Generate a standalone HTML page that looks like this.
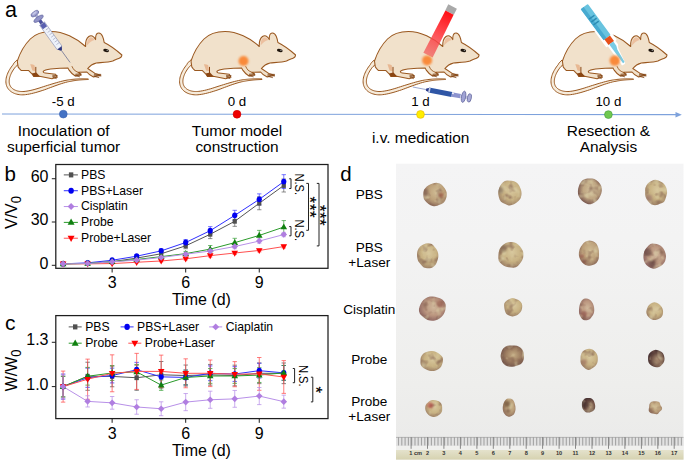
<!DOCTYPE html>
<html><head><meta charset="utf-8"><style>
html,body{margin:0;padding:0;background:#fff;width:685px;height:463px;overflow:hidden;}
svg{display:block;}
</style></head><body>
<svg width="685" height="463" viewBox="0 0 685 463">
<defs>
<filter id="blur1" x="-50%" y="-50%" width="200%" height="200%"><feGaussianBlur stdDeviation="0.6"/></filter>
<filter id="blurT" x="-50%" y="-50%" width="200%" height="200%"><feGaussianBlur stdDeviation="0.85"/></filter>
<filter id="blur2" x="-50%" y="-50%" width="200%" height="200%"><feGaussianBlur stdDeviation="1.1"/></filter>
<linearGradient id="photobg" x1="0" y1="0" x2="0" y2="1"><stop offset="0" stop-color="#f4f4f5"/><stop offset="0.25" stop-color="#f3f3f3"/><stop offset="0.75" stop-color="#eeeeec"/><stop offset="0.92" stop-color="#ebebea"/></linearGradient>
<linearGradient id="rulerband" x1="0" y1="0" x2="0" y2="1"><stop offset="0" stop-color="#e4e2cc"/><stop offset="1" stop-color="#d6d2b0"/></linearGradient>
<radialGradient id="tgy" cx="0.55" cy="0.4" r="0.6"><stop offset="0" stop-color="#d8c89e"/><stop offset="0.6" stop-color="#c8b283"/><stop offset="1" stop-color="#a08468"/></radialGradient>
<radialGradient id="tga" cx="0.55" cy="0.4" r="0.6"><stop offset="0" stop-color="#d0bc94"/><stop offset="0.6" stop-color="#bca07a"/><stop offset="1" stop-color="#947460"/></radialGradient>
<radialGradient id="tgr" cx="0.55" cy="0.45" r="0.6"><stop offset="0" stop-color="#d0b89c"/><stop offset="0.55" stop-color="#bb967f"/><stop offset="1" stop-color="#8a6260"/></radialGradient>
<radialGradient id="tgb" cx="0.55" cy="0.45" r="0.6"><stop offset="0" stop-color="#c4ac84"/><stop offset="0.55" stop-color="#9c7c60"/><stop offset="1" stop-color="#6e5048"/></radialGradient>
<radialGradient id="tgm" cx="0.55" cy="0.45" r="0.6"><stop offset="0" stop-color="#d2c09c"/><stop offset="0.55" stop-color="#bfa682"/><stop offset="0.85" stop-color="#8a6a5c"/><stop offset="1" stop-color="#664644"/></radialGradient>
<radialGradient id="tgd" cx="0.6" cy="0.6" r="0.6"><stop offset="0" stop-color="#c4ac88"/><stop offset="0.3" stop-color="#9a8068"/><stop offset="0.7" stop-color="#64483f"/><stop offset="1" stop-color="#4a3434"/></radialGradient>
<filter id="mottle" x="-20%" y="-20%" width="140%" height="140%" color-interpolation-filters="sRGB">
<feTurbulence type="fractalNoise" baseFrequency="0.14" numOctaves="2" seed="5" result="n"/>
<feColorMatrix in="n" type="matrix" values="0 0 0 0 0.50  0 0 0 0 0.36  0 0 0 0 0.30  1.9 0 0 0 -0.95" result="spots"/>
<feColorMatrix in="n" type="matrix" values="0 0 0 0 0.86  0 0 0 0 0.82  0 0 0 0 0.66  0 2.0 0 0 -1.05" result="hl"/>
<feComposite in="spots" in2="SourceGraphic" operator="atop" result="s1"/>
<feComposite in="hl" in2="s1" operator="atop" result="s2"/>
<feGaussianBlur in="s2" stdDeviation="0.6"/>
</filter>
<linearGradient id="laserg" x1="0" y1="0" x2="0" y2="1"><stop offset="0" stop-color="#ff0f14"/><stop offset="0.5" stop-color="#ff3a40" stop-opacity="0.9"/><stop offset="1" stop-color="#f05a5a" stop-opacity="0.72"/></linearGradient>
</defs>
<text x="5" y="16.5" font-size="21.5" font-family="Liberation Sans, sans-serif">a</text>
<g transform="translate(63.3,0)">
<path d="M-46.39,60.06 L-47.44,61.07 L-48.49,62.15 L-49.50,63.26 L-50.20,64.62 L-51.11,65.77 L-51.98,66.95 L-52.80,68.15 L-53.57,69.36 L-54.27,70.59 L-54.92,71.83 L-55.50,73.09 L-56.01,74.34 L-56.45,75.61 L-56.82,76.87 L-57.10,78.14 L-57.29,79.40 L-57.40,80.65 L-57.41,81.90 L-57.31,83.13 L-57.11,84.35 L-56.80,85.53 L-56.37,86.64 L-55.84,87.70 L-55.22,88.68 L-54.50,89.58 L-53.71,90.41 L-52.85,91.17 L-51.92,91.85 L-50.93,92.46 L-49.89,92.99 L-48.81,93.46 L-47.68,93.85 L-46.52,94.18 L-45.33,94.44 L-44.11,94.64 L-42.88,94.77 L-41.62,94.83 L-40.35,94.83 L-39.08,94.77 L-37.80,94.64 L-35.78,94.36 L-33.73,94.00 L-31.66,93.56 L-29.58,93.06 L-27.48,92.50 L-25.37,91.89 L-23.25,91.24 L-21.12,90.56 L-18.98,89.85 L-16.86,89.08 L-14.73,88.28 L-12.61,87.48 L-10.49,86.68 L-8.37,85.90 L-6.25,85.14 L-4.15,84.40 L-2.04,83.71 L0.05,83.05 L2.13,82.45 L4.19,81.91 L5.34,81.67 L6.48,81.44 L7.60,81.22 L8.70,81.02 L9.77,80.84 L10.83,80.67 L11.87,80.52 L12.90,80.38 L13.91,80.25 L14.92,80.14 L15.92,80.04 L16.92,79.94 L17.91,79.86 L18.91,79.79 L19.90,79.72 L20.91,79.67 L21.91,79.62 L22.93,79.57 L23.96,79.53 L25.00,79.50 L25.00,78.90 L23.96,78.87 L22.92,78.85 L21.90,78.83 L20.89,78.82 L19.88,78.82 L18.87,78.82 L17.86,78.84 L16.86,78.86 L15.85,78.89 L14.83,78.93 L13.80,78.99 L12.77,79.06 L11.72,79.13 L10.65,79.23 L9.57,79.33 L8.47,79.45 L7.35,79.58 L6.20,79.73 L5.03,79.90 L3.81,80.09 L1.66,80.51 L-0.50,81.00 L-2.67,81.53 L-4.85,82.11 L-7.03,82.72 L-9.21,83.36 L-11.39,84.03 L-13.57,84.70 L-15.73,85.37 L-17.89,86.04 L-20.03,86.72 L-22.14,87.42 L-24.24,88.10 L-26.31,88.73 L-28.36,89.32 L-30.39,89.86 L-32.39,90.35 L-34.36,90.76 L-36.29,91.10 L-38.20,91.36 L-39.32,91.47 L-40.44,91.53 L-41.54,91.53 L-42.62,91.47 L-43.68,91.36 L-44.72,91.20 L-45.72,90.98 L-46.69,90.71 L-47.61,90.38 L-48.48,90.01 L-49.31,89.58 L-50.08,89.11 L-50.78,88.59 L-51.43,88.03 L-52.01,87.42 L-52.53,86.76 L-52.97,86.06 L-53.35,85.32 L-53.66,84.51 L-53.89,83.65 L-54.04,82.74 L-54.11,81.79 L-54.10,80.81 L-54.02,79.79 L-53.86,78.75 L-53.62,77.69 L-53.31,76.61 L-52.92,75.51 L-52.47,74.40 L-51.96,73.29 L-51.38,72.18 L-50.74,71.06 L-50.04,69.96 L-49.29,68.86 L-48.49,67.78 L-47.65,66.71 L-46.50,65.90 L-45.58,64.89 L-44.63,63.91 L-43.61,62.94 Z" fill="#f7ecdc" stroke="#9a5820" stroke-width="1.0" stroke-linejoin="round"/>
<path d="M-46,61 C-43,52 -38,44 -33,39 C-27,33 -20,31.5 -12,31.5 C0,31.5 13,38 22.3,46.5 C22,42 23.5,38 25.5,36.5 C27.5,35 30.5,35.5 32.3,39.6 C32.2,36.5 32.8,33.8 34.3,33.2 C36,32.6 38,33.5 39.2,36.2 C40,38 40.5,40 40.9,42.5 C46,45 53,50 58.6,55 C58.5,57 57,58 55.5,58.5 C53,59.5 51,60 49.5,61 C45,62.3 38,62.5 33,63 C29,64 26,66.5 24.4,68.5 L31.7,73.4 L37.5,75.2 L30.2,77 C28,76 25,74 23.6,72 L15,72.3 L17.8,74.5 L12,76 C9,74 7,72 6,70.4 L4.6,67.9 C0,68 -8,68.5 -12.8,68.9 C-16,69.3 -19,70 -20.1,71.4 C-20,72.5 -19,73 -18,72.9 L-7.7,74.3 L-6.2,76.9 L-11.3,78.7 L-23.8,76.2 L-29.6,76.4 L-31.4,73.8 L-34.8,70.4 L-42.2,70.4 L-43.9,68.6 L-45.2,66.9 Z" fill="#f1e1cb" stroke="#9a5820" stroke-width="1.05" stroke-linejoin="round"/>
<path d="M23.6,45.5 C23.4,41.5 24.8,38.5 26.8,37.6 C28.6,36.9 30.4,38 31.2,40 C28.5,40.8 25.5,43 23.6,45.5 Z" fill="#ecc0a0"/>
<path d="M-33.1,64.3 C-31.5,64 -30,64.5 -28.8,65.2 L-27.9,71.2 L-30.9,70.4 Z" fill="#e8b893"/>
<path d="M-27.5,66.9 V73.8" stroke="#8a4512" stroke-width="1"/>
<path d="M-31.5,73.5 L-27,72.5 L-23.5,76.2 L-29.6,76.8 Z" fill="#8a4512"/>
<path d="M-10.5,75.3 L-6,75.6 M-10.5,76.3 L-6,77.2 M-10.5,77.2 L-7,78.6" stroke="#7a3e10" stroke-width="0.75" fill="none" stroke-linecap="round"/>
<path d="M12.5,74.2 L17.6,73.8 M12.5,75 L17.8,75.4 M12,75.8 L16.3,76.8" stroke="#7a3e10" stroke-width="0.75" fill="none" stroke-linecap="round"/>
<path d="M31,74.2 L37.5,74.4 M31,75.2 L37.6,76 M30.5,76.2 L35.5,77.6" stroke="#7a3e10" stroke-width="0.75" fill="none" stroke-linecap="round"/>
<path d="M8.6,66.2 C9.4,67.8 10,69 10.8,69.9 C12,71 13.5,71.8 15,72.4" stroke="#9a5820" stroke-width="0.9" fill="none"/>
<ellipse cx="42.8" cy="50.5" rx="2.9" ry="1.6" fill="#1e140c" transform="rotate(10 42.8 50.5)"/>
<ellipse cx="43.9" cy="50.5" rx="0.8" ry="0.6" fill="#9a9a9a"/>

</g>
<g transform="translate(237,0)">
<path d="M-46.39,60.06 L-47.44,61.07 L-48.49,62.15 L-49.50,63.26 L-50.20,64.62 L-51.11,65.77 L-51.98,66.95 L-52.80,68.15 L-53.57,69.36 L-54.27,70.59 L-54.92,71.83 L-55.50,73.09 L-56.01,74.34 L-56.45,75.61 L-56.82,76.87 L-57.10,78.14 L-57.29,79.40 L-57.40,80.65 L-57.41,81.90 L-57.31,83.13 L-57.11,84.35 L-56.80,85.53 L-56.37,86.64 L-55.84,87.70 L-55.22,88.68 L-54.50,89.58 L-53.71,90.41 L-52.85,91.17 L-51.92,91.85 L-50.93,92.46 L-49.89,92.99 L-48.81,93.46 L-47.68,93.85 L-46.52,94.18 L-45.33,94.44 L-44.11,94.64 L-42.88,94.77 L-41.62,94.83 L-40.35,94.83 L-39.08,94.77 L-37.80,94.64 L-35.78,94.36 L-33.73,94.00 L-31.66,93.56 L-29.58,93.06 L-27.48,92.50 L-25.37,91.89 L-23.25,91.24 L-21.12,90.56 L-18.98,89.85 L-16.86,89.08 L-14.73,88.28 L-12.61,87.48 L-10.49,86.68 L-8.37,85.90 L-6.25,85.14 L-4.15,84.40 L-2.04,83.71 L0.05,83.05 L2.13,82.45 L4.19,81.91 L5.34,81.67 L6.48,81.44 L7.60,81.22 L8.70,81.02 L9.77,80.84 L10.83,80.67 L11.87,80.52 L12.90,80.38 L13.91,80.25 L14.92,80.14 L15.92,80.04 L16.92,79.94 L17.91,79.86 L18.91,79.79 L19.90,79.72 L20.91,79.67 L21.91,79.62 L22.93,79.57 L23.96,79.53 L25.00,79.50 L25.00,78.90 L23.96,78.87 L22.92,78.85 L21.90,78.83 L20.89,78.82 L19.88,78.82 L18.87,78.82 L17.86,78.84 L16.86,78.86 L15.85,78.89 L14.83,78.93 L13.80,78.99 L12.77,79.06 L11.72,79.13 L10.65,79.23 L9.57,79.33 L8.47,79.45 L7.35,79.58 L6.20,79.73 L5.03,79.90 L3.81,80.09 L1.66,80.51 L-0.50,81.00 L-2.67,81.53 L-4.85,82.11 L-7.03,82.72 L-9.21,83.36 L-11.39,84.03 L-13.57,84.70 L-15.73,85.37 L-17.89,86.04 L-20.03,86.72 L-22.14,87.42 L-24.24,88.10 L-26.31,88.73 L-28.36,89.32 L-30.39,89.86 L-32.39,90.35 L-34.36,90.76 L-36.29,91.10 L-38.20,91.36 L-39.32,91.47 L-40.44,91.53 L-41.54,91.53 L-42.62,91.47 L-43.68,91.36 L-44.72,91.20 L-45.72,90.98 L-46.69,90.71 L-47.61,90.38 L-48.48,90.01 L-49.31,89.58 L-50.08,89.11 L-50.78,88.59 L-51.43,88.03 L-52.01,87.42 L-52.53,86.76 L-52.97,86.06 L-53.35,85.32 L-53.66,84.51 L-53.89,83.65 L-54.04,82.74 L-54.11,81.79 L-54.10,80.81 L-54.02,79.79 L-53.86,78.75 L-53.62,77.69 L-53.31,76.61 L-52.92,75.51 L-52.47,74.40 L-51.96,73.29 L-51.38,72.18 L-50.74,71.06 L-50.04,69.96 L-49.29,68.86 L-48.49,67.78 L-47.65,66.71 L-46.50,65.90 L-45.58,64.89 L-44.63,63.91 L-43.61,62.94 Z" fill="#f7ecdc" stroke="#9a5820" stroke-width="1.0" stroke-linejoin="round"/>
<path d="M-46,61 C-43,52 -38,44 -33,39 C-27,33 -20,31.5 -12,31.5 C0,31.5 13,38 22.3,46.5 C22,42 23.5,38 25.5,36.5 C27.5,35 30.5,35.5 32.3,39.6 C32.2,36.5 32.8,33.8 34.3,33.2 C36,32.6 38,33.5 39.2,36.2 C40,38 40.5,40 40.9,42.5 C46,45 53,50 58.6,55 C58.5,57 57,58 55.5,58.5 C53,59.5 51,60 49.5,61 C45,62.3 38,62.5 33,63 C29,64 26,66.5 24.4,68.5 L31.7,73.4 L37.5,75.2 L30.2,77 C28,76 25,74 23.6,72 L15,72.3 L17.8,74.5 L12,76 C9,74 7,72 6,70.4 L4.6,67.9 C0,68 -8,68.5 -12.8,68.9 C-16,69.3 -19,70 -20.1,71.4 C-20,72.5 -19,73 -18,72.9 L-7.7,74.3 L-6.2,76.9 L-11.3,78.7 L-23.8,76.2 L-29.6,76.4 L-31.4,73.8 L-34.8,70.4 L-42.2,70.4 L-43.9,68.6 L-45.2,66.9 Z" fill="#f1e1cb" stroke="#9a5820" stroke-width="1.05" stroke-linejoin="round"/>
<path d="M23.6,45.5 C23.4,41.5 24.8,38.5 26.8,37.6 C28.6,36.9 30.4,38 31.2,40 C28.5,40.8 25.5,43 23.6,45.5 Z" fill="#ecc0a0"/>
<path d="M-33.1,64.3 C-31.5,64 -30,64.5 -28.8,65.2 L-27.9,71.2 L-30.9,70.4 Z" fill="#e8b893"/>
<path d="M-27.5,66.9 V73.8" stroke="#8a4512" stroke-width="1"/>
<path d="M-31.5,73.5 L-27,72.5 L-23.5,76.2 L-29.6,76.8 Z" fill="#8a4512"/>
<path d="M-10.5,75.3 L-6,75.6 M-10.5,76.3 L-6,77.2 M-10.5,77.2 L-7,78.6" stroke="#7a3e10" stroke-width="0.75" fill="none" stroke-linecap="round"/>
<path d="M12.5,74.2 L17.6,73.8 M12.5,75 L17.8,75.4 M12,75.8 L16.3,76.8" stroke="#7a3e10" stroke-width="0.75" fill="none" stroke-linecap="round"/>
<path d="M31,74.2 L37.5,74.4 M31,75.2 L37.6,76 M30.5,76.2 L35.5,77.6" stroke="#7a3e10" stroke-width="0.75" fill="none" stroke-linecap="round"/>
<path d="M8.6,66.2 C9.4,67.8 10,69 10.8,69.9 C12,71 13.5,71.8 15,72.4" stroke="#9a5820" stroke-width="0.9" fill="none"/>
<ellipse cx="42.8" cy="50.5" rx="2.9" ry="1.6" fill="#1e140c" transform="rotate(10 42.8 50.5)"/>
<ellipse cx="43.9" cy="50.5" rx="0.8" ry="0.6" fill="#9a9a9a"/>

</g>
<g transform="translate(420.5,0)">
<path d="M-46.39,60.06 L-47.44,61.07 L-48.49,62.15 L-49.50,63.26 L-50.20,64.62 L-51.11,65.77 L-51.98,66.95 L-52.80,68.15 L-53.57,69.36 L-54.27,70.59 L-54.92,71.83 L-55.50,73.09 L-56.01,74.34 L-56.45,75.61 L-56.82,76.87 L-57.10,78.14 L-57.29,79.40 L-57.40,80.65 L-57.41,81.90 L-57.31,83.13 L-57.11,84.35 L-56.80,85.53 L-56.37,86.64 L-55.84,87.70 L-55.22,88.68 L-54.50,89.58 L-53.71,90.41 L-52.85,91.17 L-51.92,91.85 L-50.93,92.46 L-49.89,92.99 L-48.81,93.46 L-47.68,93.85 L-46.52,94.18 L-45.33,94.44 L-44.11,94.64 L-42.88,94.77 L-41.62,94.83 L-40.35,94.83 L-39.08,94.77 L-37.80,94.64 L-35.78,94.36 L-33.73,94.00 L-31.66,93.56 L-29.58,93.06 L-27.48,92.50 L-25.37,91.89 L-23.25,91.24 L-21.12,90.56 L-18.98,89.85 L-16.86,89.08 L-14.73,88.28 L-12.61,87.48 L-10.49,86.68 L-8.37,85.90 L-6.25,85.14 L-4.15,84.40 L-2.04,83.71 L0.05,83.05 L2.13,82.45 L4.19,81.91 L5.34,81.67 L6.48,81.44 L7.60,81.22 L8.70,81.02 L9.77,80.84 L10.83,80.67 L11.87,80.52 L12.90,80.38 L13.91,80.25 L14.92,80.14 L15.92,80.04 L16.92,79.94 L17.91,79.86 L18.91,79.79 L19.90,79.72 L20.91,79.67 L21.91,79.62 L22.93,79.57 L23.96,79.53 L25.00,79.50 L25.00,78.90 L23.96,78.87 L22.92,78.85 L21.90,78.83 L20.89,78.82 L19.88,78.82 L18.87,78.82 L17.86,78.84 L16.86,78.86 L15.85,78.89 L14.83,78.93 L13.80,78.99 L12.77,79.06 L11.72,79.13 L10.65,79.23 L9.57,79.33 L8.47,79.45 L7.35,79.58 L6.20,79.73 L5.03,79.90 L3.81,80.09 L1.66,80.51 L-0.50,81.00 L-2.67,81.53 L-4.85,82.11 L-7.03,82.72 L-9.21,83.36 L-11.39,84.03 L-13.57,84.70 L-15.73,85.37 L-17.89,86.04 L-20.03,86.72 L-22.14,87.42 L-24.24,88.10 L-26.31,88.73 L-28.36,89.32 L-30.39,89.86 L-32.39,90.35 L-34.36,90.76 L-36.29,91.10 L-38.20,91.36 L-39.32,91.47 L-40.44,91.53 L-41.54,91.53 L-42.62,91.47 L-43.68,91.36 L-44.72,91.20 L-45.72,90.98 L-46.69,90.71 L-47.61,90.38 L-48.48,90.01 L-49.31,89.58 L-50.08,89.11 L-50.78,88.59 L-51.43,88.03 L-52.01,87.42 L-52.53,86.76 L-52.97,86.06 L-53.35,85.32 L-53.66,84.51 L-53.89,83.65 L-54.04,82.74 L-54.11,81.79 L-54.10,80.81 L-54.02,79.79 L-53.86,78.75 L-53.62,77.69 L-53.31,76.61 L-52.92,75.51 L-52.47,74.40 L-51.96,73.29 L-51.38,72.18 L-50.74,71.06 L-50.04,69.96 L-49.29,68.86 L-48.49,67.78 L-47.65,66.71 L-46.50,65.90 L-45.58,64.89 L-44.63,63.91 L-43.61,62.94 Z" fill="#f7ecdc" stroke="#9a5820" stroke-width="1.0" stroke-linejoin="round"/>
<path d="M-46,61 C-43,52 -38,44 -33,39 C-27,33 -20,31.5 -12,31.5 C0,31.5 13,38 22.3,46.5 C22,42 23.5,38 25.5,36.5 C27.5,35 30.5,35.5 32.3,39.6 C32.2,36.5 32.8,33.8 34.3,33.2 C36,32.6 38,33.5 39.2,36.2 C40,38 40.5,40 40.9,42.5 C46,45 53,50 58.6,55 C58.5,57 57,58 55.5,58.5 C53,59.5 51,60 49.5,61 C45,62.3 38,62.5 33,63 C29,64 26,66.5 24.4,68.5 L31.7,73.4 L37.5,75.2 L30.2,77 C28,76 25,74 23.6,72 L15,72.3 L17.8,74.5 L12,76 C9,74 7,72 6,70.4 L4.6,67.9 C0,68 -8,68.5 -12.8,68.9 C-16,69.3 -19,70 -20.1,71.4 C-20,72.5 -19,73 -18,72.9 L-7.7,74.3 L-6.2,76.9 L-11.3,78.7 L-23.8,76.2 L-29.6,76.4 L-31.4,73.8 L-34.8,70.4 L-42.2,70.4 L-43.9,68.6 L-45.2,66.9 Z" fill="#f1e1cb" stroke="#9a5820" stroke-width="1.05" stroke-linejoin="round"/>
<path d="M23.6,45.5 C23.4,41.5 24.8,38.5 26.8,37.6 C28.6,36.9 30.4,38 31.2,40 C28.5,40.8 25.5,43 23.6,45.5 Z" fill="#ecc0a0"/>
<path d="M-33.1,64.3 C-31.5,64 -30,64.5 -28.8,65.2 L-27.9,71.2 L-30.9,70.4 Z" fill="#e8b893"/>
<path d="M-27.5,66.9 V73.8" stroke="#8a4512" stroke-width="1"/>
<path d="M-31.5,73.5 L-27,72.5 L-23.5,76.2 L-29.6,76.8 Z" fill="#8a4512"/>
<path d="M-10.5,75.3 L-6,75.6 M-10.5,76.3 L-6,77.2 M-10.5,77.2 L-7,78.6" stroke="#7a3e10" stroke-width="0.75" fill="none" stroke-linecap="round"/>
<path d="M12.5,74.2 L17.6,73.8 M12.5,75 L17.8,75.4 M12,75.8 L16.3,76.8" stroke="#7a3e10" stroke-width="0.75" fill="none" stroke-linecap="round"/>
<path d="M31,74.2 L37.5,74.4 M31,75.2 L37.6,76 M30.5,76.2 L35.5,77.6" stroke="#7a3e10" stroke-width="0.75" fill="none" stroke-linecap="round"/>
<path d="M8.6,66.2 C9.4,67.8 10,69 10.8,69.9 C12,71 13.5,71.8 15,72.4" stroke="#9a5820" stroke-width="0.9" fill="none"/>
<ellipse cx="42.8" cy="50.5" rx="2.9" ry="1.6" fill="#1e140c" transform="rotate(10 42.8 50.5)"/>
<ellipse cx="43.9" cy="50.5" rx="0.8" ry="0.6" fill="#9a9a9a"/>

</g>
<g transform="translate(608.4,0)">
<path d="M-46.39,60.06 L-47.44,61.07 L-48.49,62.15 L-49.50,63.26 L-50.20,64.62 L-51.11,65.77 L-51.98,66.95 L-52.80,68.15 L-53.57,69.36 L-54.27,70.59 L-54.92,71.83 L-55.50,73.09 L-56.01,74.34 L-56.45,75.61 L-56.82,76.87 L-57.10,78.14 L-57.29,79.40 L-57.40,80.65 L-57.41,81.90 L-57.31,83.13 L-57.11,84.35 L-56.80,85.53 L-56.37,86.64 L-55.84,87.70 L-55.22,88.68 L-54.50,89.58 L-53.71,90.41 L-52.85,91.17 L-51.92,91.85 L-50.93,92.46 L-49.89,92.99 L-48.81,93.46 L-47.68,93.85 L-46.52,94.18 L-45.33,94.44 L-44.11,94.64 L-42.88,94.77 L-41.62,94.83 L-40.35,94.83 L-39.08,94.77 L-37.80,94.64 L-35.78,94.36 L-33.73,94.00 L-31.66,93.56 L-29.58,93.06 L-27.48,92.50 L-25.37,91.89 L-23.25,91.24 L-21.12,90.56 L-18.98,89.85 L-16.86,89.08 L-14.73,88.28 L-12.61,87.48 L-10.49,86.68 L-8.37,85.90 L-6.25,85.14 L-4.15,84.40 L-2.04,83.71 L0.05,83.05 L2.13,82.45 L4.19,81.91 L5.34,81.67 L6.48,81.44 L7.60,81.22 L8.70,81.02 L9.77,80.84 L10.83,80.67 L11.87,80.52 L12.90,80.38 L13.91,80.25 L14.92,80.14 L15.92,80.04 L16.92,79.94 L17.91,79.86 L18.91,79.79 L19.90,79.72 L20.91,79.67 L21.91,79.62 L22.93,79.57 L23.96,79.53 L25.00,79.50 L25.00,78.90 L23.96,78.87 L22.92,78.85 L21.90,78.83 L20.89,78.82 L19.88,78.82 L18.87,78.82 L17.86,78.84 L16.86,78.86 L15.85,78.89 L14.83,78.93 L13.80,78.99 L12.77,79.06 L11.72,79.13 L10.65,79.23 L9.57,79.33 L8.47,79.45 L7.35,79.58 L6.20,79.73 L5.03,79.90 L3.81,80.09 L1.66,80.51 L-0.50,81.00 L-2.67,81.53 L-4.85,82.11 L-7.03,82.72 L-9.21,83.36 L-11.39,84.03 L-13.57,84.70 L-15.73,85.37 L-17.89,86.04 L-20.03,86.72 L-22.14,87.42 L-24.24,88.10 L-26.31,88.73 L-28.36,89.32 L-30.39,89.86 L-32.39,90.35 L-34.36,90.76 L-36.29,91.10 L-38.20,91.36 L-39.32,91.47 L-40.44,91.53 L-41.54,91.53 L-42.62,91.47 L-43.68,91.36 L-44.72,91.20 L-45.72,90.98 L-46.69,90.71 L-47.61,90.38 L-48.48,90.01 L-49.31,89.58 L-50.08,89.11 L-50.78,88.59 L-51.43,88.03 L-52.01,87.42 L-52.53,86.76 L-52.97,86.06 L-53.35,85.32 L-53.66,84.51 L-53.89,83.65 L-54.04,82.74 L-54.11,81.79 L-54.10,80.81 L-54.02,79.79 L-53.86,78.75 L-53.62,77.69 L-53.31,76.61 L-52.92,75.51 L-52.47,74.40 L-51.96,73.29 L-51.38,72.18 L-50.74,71.06 L-50.04,69.96 L-49.29,68.86 L-48.49,67.78 L-47.65,66.71 L-46.50,65.90 L-45.58,64.89 L-44.63,63.91 L-43.61,62.94 Z" fill="#f7ecdc" stroke="#9a5820" stroke-width="1.0" stroke-linejoin="round"/>
<path d="M-46,61 C-43,52 -38,44 -33,39 C-27,33 -20,31.5 -12,31.5 C0,31.5 13,38 22.3,46.5 C22,42 23.5,38 25.5,36.5 C27.5,35 30.5,35.5 32.3,39.6 C32.2,36.5 32.8,33.8 34.3,33.2 C36,32.6 38,33.5 39.2,36.2 C40,38 40.5,40 40.9,42.5 C46,45 53,50 58.6,55 C58.5,57 57,58 55.5,58.5 C53,59.5 51,60 49.5,61 C45,62.3 38,62.5 33,63 C29,64 26,66.5 24.4,68.5 L31.7,73.4 L37.5,75.2 L30.2,77 C28,76 25,74 23.6,72 L15,72.3 L17.8,74.5 L12,76 C9,74 7,72 6,70.4 L4.6,67.9 C0,68 -8,68.5 -12.8,68.9 C-16,69.3 -19,70 -20.1,71.4 C-20,72.5 -19,73 -18,72.9 L-7.7,74.3 L-6.2,76.9 L-11.3,78.7 L-23.8,76.2 L-29.6,76.4 L-31.4,73.8 L-34.8,70.4 L-42.2,70.4 L-43.9,68.6 L-45.2,66.9 Z" fill="#f1e1cb" stroke="#9a5820" stroke-width="1.05" stroke-linejoin="round"/>
<path d="M23.6,45.5 C23.4,41.5 24.8,38.5 26.8,37.6 C28.6,36.9 30.4,38 31.2,40 C28.5,40.8 25.5,43 23.6,45.5 Z" fill="#ecc0a0"/>
<path d="M-33.1,64.3 C-31.5,64 -30,64.5 -28.8,65.2 L-27.9,71.2 L-30.9,70.4 Z" fill="#e8b893"/>
<path d="M-27.5,66.9 V73.8" stroke="#8a4512" stroke-width="1"/>
<path d="M-31.5,73.5 L-27,72.5 L-23.5,76.2 L-29.6,76.8 Z" fill="#8a4512"/>
<path d="M-10.5,75.3 L-6,75.6 M-10.5,76.3 L-6,77.2 M-10.5,77.2 L-7,78.6" stroke="#7a3e10" stroke-width="0.75" fill="none" stroke-linecap="round"/>
<path d="M12.5,74.2 L17.6,73.8 M12.5,75 L17.8,75.4 M12,75.8 L16.3,76.8" stroke="#7a3e10" stroke-width="0.75" fill="none" stroke-linecap="round"/>
<path d="M31,74.2 L37.5,74.4 M31,75.2 L37.6,76 M30.5,76.2 L35.5,77.6" stroke="#7a3e10" stroke-width="0.75" fill="none" stroke-linecap="round"/>
<path d="M8.6,66.2 C9.4,67.8 10,69 10.8,69.9 C12,71 13.5,71.8 15,72.4" stroke="#9a5820" stroke-width="0.9" fill="none"/>
<ellipse cx="42.8" cy="50.5" rx="2.9" ry="1.6" fill="#1e140c" transform="rotate(10 42.8 50.5)"/>
<ellipse cx="43.9" cy="50.5" rx="0.8" ry="0.6" fill="#9a9a9a"/>

</g>
<circle cx="243.5" cy="61" r="5" fill="#f98a3a" filter="url(#blurT)"/>
<g transform="translate(34.7,13.4) rotate(54.2)">
<line x1="44" y1="0" x2="60.5" y2="0" stroke="#6a6f90" stroke-width="0.7"/>
<rect x="0" y="-1.6" width="7" height="3.2" fill="#aeb0d6"/>
<rect x="7" y="-1.7" width="6" height="3.4" fill="#4a4f9e"/>
<rect x="12.5" y="-3" width="30" height="6" fill="#eef2fa" stroke="#8a90b0" stroke-width="0.6"/>
<rect x="12.8" y="-2.6" width="4.8" height="5.2" fill="#5a60b0"/>
<line x1="20" y1="-2.7" x2="20" y2="0.6" stroke="#8a90b0" stroke-width="0.5"/>
<line x1="23" y1="-2.7" x2="23" y2="0.6" stroke="#8a90b0" stroke-width="0.5"/>
<line x1="26" y1="-2.7" x2="26" y2="0.6" stroke="#8a90b0" stroke-width="0.5"/>
<line x1="29" y1="-2.7" x2="29" y2="0.6" stroke="#8a90b0" stroke-width="0.5"/>
<line x1="32" y1="-2.7" x2="32" y2="0.6" stroke="#8a90b0" stroke-width="0.5"/>
<line x1="35" y1="-2.7" x2="35" y2="0.6" stroke="#8a90b0" stroke-width="0.5"/>
<line x1="38" y1="-2.7" x2="38" y2="0.6" stroke="#8a90b0" stroke-width="0.5"/>
<path d="M42.5,-2.7 L45.5,-0.8 L45.5,0.8 L42.5,2.7 Z" fill="#2e3680"/>
<ellipse cx="6.6" cy="0" rx="2.1" ry="5.6" fill="#9193c8" stroke="#5a5e98" stroke-width="0.6"/>
<ellipse cx="0.3" cy="0" rx="2.2" ry="4.4" fill="#9c9ecd" stroke="#5a5e98" stroke-width="0.6"/>
<ellipse cx="-0.3" cy="0" rx="1.0" ry="2.6" fill="#c4c6e6"/>
</g>
<g transform="translate(452.6,6.5) rotate(26.8)"><rect x="-4.8" y="0" width="9.6" height="6.8" fill="#a9a9a9"/><path d="M-4.6,6.8 L4.6,6.8 L5.2,54.5 L-5.2,54.5 Z" fill="url(#laserg)"/></g>
<circle cx="427.1" cy="60.4" r="5" fill="#f98a3a" filter="url(#blurT)"/>
<g transform="translate(412.8,87) rotate(10.9)"><line x1="0" y1="0" x2="15" y2="0" stroke="#8a9ac8" stroke-width="0.8"/><path d="M13.5,-1.1 L16.3,-2 L16.3,2 L13.5,1.1 Z" fill="#2a3a8a"/><rect x="16.2" y="-2.5" width="23.6" height="5" fill="#2f56a6"/><rect x="16.2" y="-2.5" width="1.5" height="5" fill="#c8d0ea"/><rect x="39.6" y="-2.2" width="9" height="4.4" fill="#8c93cf"/><rect x="39.6" y="-2.2" width="2" height="1.6" fill="#e8eaf6"/><rect x="48.5" y="-1.5" width="9" height="3" fill="#c9cbe2"/><ellipse cx="51.7" cy="0" rx="2.1" ry="5.7" fill="#9fa2d4" stroke="#5c6098" stroke-width="0.7"/><ellipse cx="57.6" cy="0" rx="2.0" ry="4.3" fill="#aaacd8" stroke="#5c6098" stroke-width="0.7"/></g>
<g transform="translate(584.3,6.6) rotate(-36.5)"><path d="M-5.4,-1.5 L5.4,-1.5 L5.4,45 L3.6,45 L3.6,50 L1.6,53 L0.6,58 L-1.6,69 L-3.6,69 L-3.6,45 L-5.4,45 Z" fill="#fff" stroke="#fff" stroke-width="2.2" stroke-linejoin="round"/><rect x="-4.4" y="0" width="8.8" height="38.5" rx="1" fill="#68c3df"/><rect x="-4.4" y="0" width="3.6" height="38.5" fill="#48aad0"/><path d="M-3.6,13 H3 M-3.6,16.6 H3 M-3.6,20.2 H3" stroke="#2d8cb4" stroke-width="1.5"/><rect x="-3.4" y="38.5" width="6.8" height="6.8" fill="#e8501a"/><path d="M-2.5,45.3 L2.5,45.3 L2.5,50.5 L0.9,54.5 L-0.5,68.5 L-2.5,68.5 Z" fill="#78cbe4"/></g>
<circle cx="614.8" cy="60.5" r="5.2" fill="#f98a3a" filter="url(#blurT)"/>
<line x1="2" y1="114.05" x2="677" y2="114.65" stroke="#7ea2dc" stroke-width="1.1"/>
<path d="M675.5,112.0 L681.8,114.7 L675.5,117.4 Z" fill="#7ea2dc"/>
<circle cx="63.3" cy="114.10" r="3.9" fill="#4472c4" stroke="#3a62b0" stroke-width="0.6"/>
<text x="63.3" y="105.9" font-size="13.3" text-anchor="middle" font-family="Liberation Sans, sans-serif">-5 d</text>
<circle cx="237" cy="114.26" r="3.9" fill="#ee0000" stroke="#d00000" stroke-width="0.6"/>
<text x="237" y="105.9" font-size="13.3" text-anchor="middle" font-family="Liberation Sans, sans-serif">0 d</text>
<circle cx="420.5" cy="114.42" r="3.9" fill="#ffee00" stroke="#e8b400" stroke-width="0.6"/>
<text x="420.5" y="105.9" font-size="13.3" text-anchor="middle" font-family="Liberation Sans, sans-serif">1 d</text>
<circle cx="608.4" cy="114.59" r="3.9" fill="#70c850" stroke="#3f9a3a" stroke-width="0.6"/>
<text x="608.4" y="105.9" font-size="13.3" text-anchor="middle" font-family="Liberation Sans, sans-serif">10 d</text>
<text x="63.6" y="135.7" font-size="15.45" text-anchor="middle" font-family="Liberation Sans, sans-serif">Inoculation of</text>
<text x="63.6" y="151.8" font-size="15.45" text-anchor="middle" font-family="Liberation Sans, sans-serif">superficial tumor</text>
<text x="237" y="135.7" font-size="15.45" text-anchor="middle" font-family="Liberation Sans, sans-serif">Tumor model</text>
<text x="237" y="151.8" font-size="15.45" text-anchor="middle" font-family="Liberation Sans, sans-serif">construction</text>
<text x="420.7" y="143.2" font-size="15.45" text-anchor="middle" font-family="Liberation Sans, sans-serif">i.v. medication</text>
<text x="608.4" y="135.7" font-size="15.45" text-anchor="middle" font-family="Liberation Sans, sans-serif">Resection &amp;</text>
<text x="608.4" y="151.8" font-size="15.45" text-anchor="middle" font-family="Liberation Sans, sans-serif">Analysis</text>
<rect x="55.8" y="164.5" width="272.2" height="103.80000000000001" fill="none" stroke="#1e1e1e" stroke-width="1.25"/>
<line x1="51.8" y1="265.3" x2="55.8" y2="265.3" stroke="#1e1e1e" stroke-width="1"/>
<text transform="translate(48.5,268.5) scale(1,1.0)" font-size="16" text-anchor="end" font-family="Liberation Sans, sans-serif">0</text>
<line x1="51.8" y1="222.01000000000002" x2="55.8" y2="222.01000000000002" stroke="#1e1e1e" stroke-width="1"/>
<text transform="translate(48.5,225.21) scale(1,1.0)" font-size="16" text-anchor="end" font-family="Liberation Sans, sans-serif">30</text>
<line x1="51.8" y1="178.72000000000003" x2="55.8" y2="178.72000000000003" stroke="#1e1e1e" stroke-width="1"/>
<text transform="translate(48.5,181.92000000000002) scale(1,1.0)" font-size="16" text-anchor="end" font-family="Liberation Sans, sans-serif">60</text>
<line x1="112.14" y1="268.3" x2="112.14" y2="272.5" stroke="#1e1e1e" stroke-width="1"/>
<text transform="translate(112.14,288.3) scale(1,1.0)" font-size="16" text-anchor="middle" font-family="Liberation Sans, sans-serif">3</text>
<line x1="185.7" y1="268.3" x2="185.7" y2="272.5" stroke="#1e1e1e" stroke-width="1"/>
<text transform="translate(185.7,288.3) scale(1,1.0)" font-size="16" text-anchor="middle" font-family="Liberation Sans, sans-serif">6</text>
<line x1="259.26" y1="268.3" x2="259.26" y2="272.5" stroke="#1e1e1e" stroke-width="1"/>
<text transform="translate(259.26,288.3) scale(1,1.0)" font-size="16" text-anchor="middle" font-family="Liberation Sans, sans-serif">9</text>
<text transform="translate(201.4,305.3) scale(1,1.0)" font-size="16" text-anchor="middle" font-family="Liberation Sans, sans-serif">Time (d)</text>
<text transform="translate(16.9,212.5) rotate(-90) scale(0.94,1)" font-size="17" text-anchor="middle" font-family="Liberation Sans, sans-serif">V/V<tspan font-size="13.8" dy="3.9">0</tspan></text>
<text transform="translate(4.5,180.6) scale(1,1)" font-size="20.5" font-family="Liberation Sans, sans-serif">b</text>
<path d="M63.10,263.42 V264.29 M60.90,263.42 H65.30 M60.90,264.29 H65.30" stroke="#555555" stroke-opacity="0.65" stroke-width="1" fill="none"/>
<path d="M87.62,262.85 V264.00 M85.42,262.85 H89.82 M85.42,264.00 H89.82" stroke="#555555" stroke-opacity="0.65" stroke-width="1" fill="none"/>
<path d="M112.14,260.83 V262.56 M109.94,260.83 H114.34 M109.94,262.56 H114.34" stroke="#555555" stroke-opacity="0.65" stroke-width="1" fill="none"/>
<path d="M136.66,256.64 V259.53 M134.46,256.64 H138.86 M134.46,259.53 H138.86" stroke="#555555" stroke-opacity="0.65" stroke-width="1" fill="none"/>
<path d="M161.18,251.59 V255.92 M158.98,251.59 H163.38 M158.98,255.92 H163.38" stroke="#555555" stroke-opacity="0.65" stroke-width="1" fill="none"/>
<path d="M185.70,242.93 V248.71 M183.50,242.93 H187.90 M183.50,248.71 H187.90" stroke="#555555" stroke-opacity="0.65" stroke-width="1" fill="none"/>
<path d="M210.22,229.95 V238.60 M208.02,229.95 H212.42 M208.02,238.60 H212.42" stroke="#555555" stroke-opacity="0.65" stroke-width="1" fill="none"/>
<path d="M234.74,216.24 V226.34 M232.54,216.24 H236.94 M232.54,226.34 H236.94" stroke="#555555" stroke-opacity="0.65" stroke-width="1" fill="none"/>
<path d="M259.26,196.76 V209.74 M257.06,196.76 H261.46 M257.06,209.74 H261.46" stroke="#555555" stroke-opacity="0.65" stroke-width="1" fill="none"/>
<path d="M283.78,179.01 V192.00 M281.58,179.01 H285.98 M281.58,192.00 H285.98" stroke="#555555" stroke-opacity="0.65" stroke-width="1" fill="none"/>
<path d="M63.10,263.42 V264.29 M60.90,263.42 H65.30 M60.90,264.29 H65.30" stroke="#3030ff" stroke-opacity="0.65" stroke-width="1" fill="none"/>
<path d="M87.62,262.27 V263.42 M85.42,262.27 H89.82 M85.42,263.42 H89.82" stroke="#3030ff" stroke-opacity="0.65" stroke-width="1" fill="none"/>
<path d="M112.14,259.38 V261.12 M109.94,259.38 H114.34 M109.94,261.12 H114.34" stroke="#3030ff" stroke-opacity="0.65" stroke-width="1" fill="none"/>
<path d="M136.66,254.77 V257.65 M134.46,254.77 H138.86 M134.46,257.65 H138.86" stroke="#3030ff" stroke-opacity="0.65" stroke-width="1" fill="none"/>
<path d="M161.18,248.99 V252.75 M158.98,248.99 H163.38 M158.98,252.75 H163.38" stroke="#3030ff" stroke-opacity="0.65" stroke-width="1" fill="none"/>
<path d="M185.70,239.61 V245.39 M183.50,239.61 H187.90 M183.50,245.39 H187.90" stroke="#3030ff" stroke-opacity="0.65" stroke-width="1" fill="none"/>
<path d="M210.22,226.63 V234.71 M208.02,226.63 H212.42 M208.02,234.71 H212.42" stroke="#3030ff" stroke-opacity="0.65" stroke-width="1" fill="none"/>
<path d="M234.74,210.32 V220.42 M232.54,210.32 H236.94 M232.54,220.42 H236.94" stroke="#3030ff" stroke-opacity="0.65" stroke-width="1" fill="none"/>
<path d="M259.26,193.87 V204.84 M257.06,193.87 H261.46 M257.06,204.84 H261.46" stroke="#3030ff" stroke-opacity="0.65" stroke-width="1" fill="none"/>
<path d="M283.78,174.68 V188.53 M281.58,174.68 H285.98 M281.58,188.53 H285.98" stroke="#3030ff" stroke-opacity="0.65" stroke-width="1" fill="none"/>
<path d="M63.10,263.57 V264.15 M60.90,263.57 H65.30 M60.90,264.15 H65.30" stroke="#ff5050" stroke-opacity="0.65" stroke-width="1" fill="none"/>
<path d="M87.62,263.42 V264.29 M85.42,263.42 H89.82 M85.42,264.29 H89.82" stroke="#ff5050" stroke-opacity="0.65" stroke-width="1" fill="none"/>
<path d="M112.14,262.99 V264.15 M109.94,262.99 H114.34 M109.94,264.15 H114.34" stroke="#ff5050" stroke-opacity="0.65" stroke-width="1" fill="none"/>
<path d="M136.66,261.55 V262.99 M134.46,261.55 H138.86 M134.46,262.99 H138.86" stroke="#ff5050" stroke-opacity="0.65" stroke-width="1" fill="none"/>
<path d="M161.18,260.11 V261.84 M158.98,260.11 H163.38 M158.98,261.84 H163.38" stroke="#ff5050" stroke-opacity="0.65" stroke-width="1" fill="none"/>
<path d="M185.70,257.65 V259.96 M183.50,257.65 H187.90 M183.50,259.96 H187.90" stroke="#ff5050" stroke-opacity="0.65" stroke-width="1" fill="none"/>
<path d="M210.22,254.19 V257.07 M208.02,254.19 H212.42 M208.02,257.07 H212.42" stroke="#ff5050" stroke-opacity="0.65" stroke-width="1" fill="none"/>
<path d="M234.74,251.59 V254.48 M232.54,251.59 H236.94 M232.54,254.48 H236.94" stroke="#ff5050" stroke-opacity="0.65" stroke-width="1" fill="none"/>
<path d="M259.26,248.99 V251.88 M257.06,248.99 H261.46 M257.06,251.88 H261.46" stroke="#ff5050" stroke-opacity="0.65" stroke-width="1" fill="none"/>
<path d="M283.78,245.10 V247.98 M281.58,245.10 H285.98 M281.58,247.98 H285.98" stroke="#ff5050" stroke-opacity="0.65" stroke-width="1" fill="none"/>
<path d="M63.10,263.57 V264.15 M60.90,263.57 H65.30 M60.90,264.15 H65.30" stroke="#2a9a2a" stroke-opacity="0.65" stroke-width="1" fill="none"/>
<path d="M87.62,262.99 V263.86 M85.42,262.99 H89.82 M85.42,263.86 H89.82" stroke="#2a9a2a" stroke-opacity="0.65" stroke-width="1" fill="none"/>
<path d="M112.14,260.97 V262.41 M109.94,260.97 H114.34 M109.94,262.41 H114.34" stroke="#2a9a2a" stroke-opacity="0.65" stroke-width="1" fill="none"/>
<path d="M136.66,258.66 V260.39 M134.46,258.66 H138.86 M134.46,260.39 H138.86" stroke="#2a9a2a" stroke-opacity="0.65" stroke-width="1" fill="none"/>
<path d="M161.18,255.20 V258.09 M158.98,255.20 H163.38 M158.98,258.09 H163.38" stroke="#2a9a2a" stroke-opacity="0.65" stroke-width="1" fill="none"/>
<path d="M185.70,251.45 V255.78 M183.50,251.45 H187.90 M183.50,255.78 H187.90" stroke="#2a9a2a" stroke-opacity="0.65" stroke-width="1" fill="none"/>
<path d="M210.22,245.53 V252.75 M208.02,245.53 H212.42 M208.02,252.75 H212.42" stroke="#2a9a2a" stroke-opacity="0.65" stroke-width="1" fill="none"/>
<path d="M234.74,238.32 V246.97 M232.54,238.32 H236.94 M232.54,246.97 H236.94" stroke="#2a9a2a" stroke-opacity="0.65" stroke-width="1" fill="none"/>
<path d="M259.26,230.38 V240.48 M257.06,230.38 H261.46 M257.06,240.48 H261.46" stroke="#2a9a2a" stroke-opacity="0.65" stroke-width="1" fill="none"/>
<path d="M283.78,220.57 V233.55 M281.58,220.57 H285.98 M281.58,233.55 H285.98" stroke="#2a9a2a" stroke-opacity="0.65" stroke-width="1" fill="none"/>
<path d="M63.10,263.57 V264.15 M60.90,263.57 H65.30 M60.90,264.15 H65.30" stroke="#b890e8" stroke-opacity="0.65" stroke-width="1" fill="none"/>
<path d="M87.62,263.14 V264.00 M85.42,263.14 H89.82 M85.42,264.00 H89.82" stroke="#b890e8" stroke-opacity="0.65" stroke-width="1" fill="none"/>
<path d="M112.14,261.12 V262.56 M109.94,261.12 H114.34 M109.94,262.56 H114.34" stroke="#b890e8" stroke-opacity="0.65" stroke-width="1" fill="none"/>
<path d="M136.66,259.24 V260.97 M134.46,259.24 H138.86 M134.46,260.97 H138.86" stroke="#b890e8" stroke-opacity="0.65" stroke-width="1" fill="none"/>
<path d="M161.18,256.35 V258.66 M158.98,256.35 H163.38 M158.98,258.66 H163.38" stroke="#b890e8" stroke-opacity="0.65" stroke-width="1" fill="none"/>
<path d="M185.70,252.75 V255.63 M183.50,252.75 H187.90 M183.50,255.63 H187.90" stroke="#b890e8" stroke-opacity="0.65" stroke-width="1" fill="none"/>
<path d="M210.22,249.28 V252.75 M208.02,249.28 H212.42 M208.02,252.75 H212.42" stroke="#b890e8" stroke-opacity="0.65" stroke-width="1" fill="none"/>
<path d="M234.74,244.38 V248.71 M232.54,244.38 H236.94 M232.54,248.71 H236.94" stroke="#b890e8" stroke-opacity="0.65" stroke-width="1" fill="none"/>
<path d="M259.26,238.89 V243.22 M257.06,238.89 H261.46 M257.06,243.22 H261.46" stroke="#b890e8" stroke-opacity="0.65" stroke-width="1" fill="none"/>
<path d="M283.78,232.40 V236.73 M281.58,232.40 H285.98 M281.58,236.73 H285.98" stroke="#b890e8" stroke-opacity="0.65" stroke-width="1" fill="none"/>
<polyline points="63.10,263.86 87.62,263.42 112.14,261.69 136.66,258.09 161.18,253.76 185.70,245.82 210.22,234.28 234.74,221.29 259.26,203.25 283.78,185.50" fill="none" stroke="#555555" stroke-width="1"/>
<rect x="61.00" y="261.44" width="4.20" height="4.83" fill="#505050"/>
<rect x="85.52" y="261.01" width="4.20" height="4.83" fill="#505050"/>
<rect x="110.04" y="259.28" width="4.20" height="4.83" fill="#505050"/>
<rect x="134.56" y="255.67" width="4.20" height="4.83" fill="#505050"/>
<rect x="159.08" y="251.34" width="4.20" height="4.83" fill="#505050"/>
<rect x="183.60" y="243.40" width="4.20" height="4.83" fill="#505050"/>
<rect x="208.12" y="231.86" width="4.20" height="4.83" fill="#505050"/>
<rect x="232.64" y="218.87" width="4.20" height="4.83" fill="#505050"/>
<rect x="257.16" y="200.84" width="4.20" height="4.83" fill="#505050"/>
<rect x="281.68" y="183.09" width="4.20" height="4.83" fill="#505050"/>
<polyline points="63.10,263.86 87.62,262.85 112.14,260.25 136.66,256.21 161.18,250.87 185.70,242.50 210.22,230.67 234.74,215.37 259.26,199.35 283.78,181.61" fill="none" stroke="#3030ff" stroke-width="1"/>
<ellipse cx="63.10" cy="263.86" rx="2.60" ry="2.90" fill="#0000f0"/>
<ellipse cx="87.62" cy="262.85" rx="2.60" ry="2.90" fill="#0000f0"/>
<ellipse cx="112.14" cy="260.25" rx="2.60" ry="2.90" fill="#0000f0"/>
<ellipse cx="136.66" cy="256.21" rx="2.60" ry="2.90" fill="#0000f0"/>
<ellipse cx="161.18" cy="250.87" rx="2.60" ry="2.90" fill="#0000f0"/>
<ellipse cx="185.70" cy="242.50" rx="2.60" ry="2.90" fill="#0000f0"/>
<ellipse cx="210.22" cy="230.67" rx="2.60" ry="2.90" fill="#0000f0"/>
<ellipse cx="234.74" cy="215.37" rx="2.60" ry="2.90" fill="#0000f0"/>
<ellipse cx="259.26" cy="199.35" rx="2.60" ry="2.90" fill="#0000f0"/>
<ellipse cx="283.78" cy="181.61" rx="2.60" ry="2.90" fill="#0000f0"/>
<polyline points="63.10,263.86 87.62,263.86 112.14,263.57 136.66,262.27 161.18,260.97 185.70,258.81 210.22,255.63 234.74,253.03 259.26,250.44 283.78,246.54" fill="none" stroke="#ff5050" stroke-width="1"/>
<path d="M63.10,267.49 L66.40,261.55 L59.80,261.55 Z" fill="#ff0000"/>
<path d="M87.62,267.49 L90.92,261.55 L84.32,261.55 Z" fill="#ff0000"/>
<path d="M112.14,267.20 L115.44,261.26 L108.84,261.26 Z" fill="#ff0000"/>
<path d="M136.66,265.90 L139.96,259.96 L133.36,259.96 Z" fill="#ff0000"/>
<path d="M161.18,264.60 L164.48,258.66 L157.88,258.66 Z" fill="#ff0000"/>
<path d="M185.70,262.44 L189.00,256.50 L182.40,256.50 Z" fill="#ff0000"/>
<path d="M210.22,259.26 L213.52,253.32 L206.92,253.32 Z" fill="#ff0000"/>
<path d="M234.74,256.66 L238.04,250.72 L231.44,250.72 Z" fill="#ff0000"/>
<path d="M259.26,254.07 L262.56,248.13 L255.96,248.13 Z" fill="#ff0000"/>
<path d="M283.78,250.17 L287.08,244.23 L280.48,244.23 Z" fill="#ff0000"/>
<polyline points="63.10,263.86 87.62,263.42 112.14,261.69 136.66,259.53 161.18,256.64 185.70,253.61 210.22,249.14 234.74,242.64 259.26,235.43 283.78,227.06" fill="none" stroke="#2a9a2a" stroke-width="1"/>
<path d="M63.10,260.23 L66.40,266.17 L59.80,266.17 Z" fill="#108010"/>
<path d="M87.62,259.79 L90.92,265.73 L84.32,265.73 Z" fill="#108010"/>
<path d="M112.14,258.06 L115.44,264.00 L108.84,264.00 Z" fill="#108010"/>
<path d="M136.66,255.90 L139.96,261.84 L133.36,261.84 Z" fill="#108010"/>
<path d="M161.18,253.01 L164.48,258.95 L157.88,258.95 Z" fill="#108010"/>
<path d="M185.70,249.98 L189.00,255.92 L182.40,255.92 Z" fill="#108010"/>
<path d="M210.22,245.51 L213.52,251.45 L206.92,251.45 Z" fill="#108010"/>
<path d="M234.74,239.01 L238.04,244.95 L231.44,244.95 Z" fill="#108010"/>
<path d="M259.26,231.80 L262.56,237.74 L255.96,237.74 Z" fill="#108010"/>
<path d="M283.78,223.43 L287.08,229.37 L280.48,229.37 Z" fill="#108010"/>
<polyline points="63.10,263.86 87.62,263.57 112.14,261.84 136.66,260.11 161.18,257.51 185.70,254.19 210.22,251.01 234.74,246.54 259.26,241.06 283.78,234.56" fill="none" stroke="#b890e8" stroke-width="1"/>
<path d="M63.10,260.56 L66.40,263.86 L63.10,267.16 L59.80,263.86 Z" fill="#b07ee0"/>
<path d="M87.62,260.27 L90.92,263.57 L87.62,266.87 L84.32,263.57 Z" fill="#b07ee0"/>
<path d="M112.14,258.54 L115.44,261.84 L112.14,265.14 L108.84,261.84 Z" fill="#b07ee0"/>
<path d="M136.66,256.81 L139.96,260.11 L136.66,263.41 L133.36,260.11 Z" fill="#b07ee0"/>
<path d="M161.18,254.21 L164.48,257.51 L161.18,260.81 L157.88,257.51 Z" fill="#b07ee0"/>
<path d="M185.70,250.89 L189.00,254.19 L185.70,257.49 L182.40,254.19 Z" fill="#b07ee0"/>
<path d="M210.22,247.71 L213.52,251.01 L210.22,254.31 L206.92,251.01 Z" fill="#b07ee0"/>
<path d="M234.74,243.24 L238.04,246.54 L234.74,249.84 L231.44,246.54 Z" fill="#b07ee0"/>
<path d="M259.26,237.76 L262.56,241.06 L259.26,244.36 L255.96,241.06 Z" fill="#b07ee0"/>
<path d="M283.78,231.26 L287.08,234.56 L283.78,237.86 L280.48,234.56 Z" fill="#b07ee0"/>
<line x1="63.8" y1="174.90" x2="77.9" y2="174.90" stroke="#555555" stroke-width="1"/>
<rect x="68.89" y="172.36" width="4.41" height="5.07" fill="#505050"/>
<text transform="translate(81.0,178.70000000000002) scale(1,1.0)" font-size="12.2" font-family="Liberation Sans, sans-serif">PBS</text>
<line x1="63.8" y1="190.73" x2="77.9" y2="190.73" stroke="#3030ff" stroke-width="1"/>
<ellipse cx="71.10" cy="190.73" rx="2.73" ry="3.04" fill="#0000f0"/>
<text transform="translate(81.0,194.53000000000003) scale(1,1.0)" font-size="12.2" font-family="Liberation Sans, sans-serif">PBS+Laser</text>
<line x1="63.8" y1="206.56" x2="77.9" y2="206.56" stroke="#b890e8" stroke-width="1"/>
<path d="M71.10,203.09 L74.56,206.56 L71.10,210.03 L67.63,206.56 Z" fill="#b07ee0"/>
<text transform="translate(81.0,210.36) scale(1,1.0)" font-size="12.2" font-family="Liberation Sans, sans-serif">Cisplatin</text>
<line x1="63.8" y1="222.39" x2="77.9" y2="222.39" stroke="#2a9a2a" stroke-width="1"/>
<path d="M71.10,218.58 L74.56,224.82 L67.63,224.82 Z" fill="#108010"/>
<text transform="translate(81.0,226.19000000000003) scale(1,1.0)" font-size="12.2" font-family="Liberation Sans, sans-serif">Probe</text>
<line x1="63.8" y1="238.22" x2="77.9" y2="238.22" stroke="#ff5050" stroke-width="1"/>
<path d="M71.10,242.03 L74.56,235.79 L67.63,235.79 Z" fill="#ff0000"/>
<text transform="translate(81.0,242.02) scale(1,1.0)" font-size="12.2" font-family="Liberation Sans, sans-serif">Probe+Laser</text>
<path d="M289.2,178.8 H291 V188.5 H289.2" fill="none" stroke="#222" stroke-width="1"/>
<text transform="translate(294.6,184.3) rotate(90) scale(0.94,1)" font-size="11.9" text-anchor="middle" font-family="Liberation Sans, sans-serif">N.S.</text>
<path d="M289.2,226.6 H291 V235.8 H289.2" fill="none" stroke="#222" stroke-width="1"/>
<text transform="translate(294.6,230.3) rotate(90) scale(0.94,1)" font-size="11.9" text-anchor="middle" font-family="Liberation Sans, sans-serif">N.S.</text>
<path d="M306.3,183.4 H308.5 V230.3 H306.3" fill="none" stroke="#222" stroke-width="1"/>
<text transform="translate(303.6,199.8) rotate(90)" font-size="17" text-anchor="middle" stroke="#000" stroke-width="0.2" font-family="Liberation Sans, sans-serif">*</text><text transform="translate(303.6,207.2) rotate(90)" font-size="17" text-anchor="middle" stroke="#000" stroke-width="0.2" font-family="Liberation Sans, sans-serif">*</text><text transform="translate(303.6,214.3) rotate(90)" font-size="17" text-anchor="middle" stroke="#000" stroke-width="0.2" font-family="Liberation Sans, sans-serif">*</text>
<path d="M316.8,183.4 H319 V245.9 H316.8" fill="none" stroke="#222" stroke-width="1"/>
<text transform="translate(314.2,208.4) rotate(90)" font-size="17" text-anchor="middle" stroke="#000" stroke-width="0.2" font-family="Liberation Sans, sans-serif">*</text><text transform="translate(314.2,215.6) rotate(90)" font-size="17" text-anchor="middle" stroke="#000" stroke-width="0.2" font-family="Liberation Sans, sans-serif">*</text><text transform="translate(314.2,222.3) rotate(90)" font-size="17" text-anchor="middle" stroke="#000" stroke-width="0.2" font-family="Liberation Sans, sans-serif">*</text>
<rect x="55.8" y="315.6" width="272.2" height="103.0" fill="none" stroke="#1e1e1e" stroke-width="1.25"/>
<line x1="51.8" y1="386.6" x2="55.8" y2="386.6" stroke="#1e1e1e" stroke-width="1"/>
<text transform="translate(48.5,389.8) scale(1,1.0)" font-size="16" text-anchor="end" font-family="Liberation Sans, sans-serif">1.0</text>
<line x1="51.8" y1="342.29" x2="55.8" y2="342.29" stroke="#1e1e1e" stroke-width="1"/>
<text transform="translate(48.5,345.49) scale(1,1.0)" font-size="16" text-anchor="end" font-family="Liberation Sans, sans-serif">1.3</text>
<line x1="112.14" y1="418.6" x2="112.14" y2="422.8" stroke="#1e1e1e" stroke-width="1"/>
<text transform="translate(112.14,439.2) scale(1,1.0)" font-size="16" text-anchor="middle" font-family="Liberation Sans, sans-serif">3</text>
<line x1="185.7" y1="418.6" x2="185.7" y2="422.8" stroke="#1e1e1e" stroke-width="1"/>
<text transform="translate(185.7,439.2) scale(1,1.0)" font-size="16" text-anchor="middle" font-family="Liberation Sans, sans-serif">6</text>
<line x1="259.26" y1="418.6" x2="259.26" y2="422.8" stroke="#1e1e1e" stroke-width="1"/>
<text transform="translate(259.26,439.2) scale(1,1.0)" font-size="16" text-anchor="middle" font-family="Liberation Sans, sans-serif">9</text>
<text transform="translate(201.4,456.2) scale(1,1.0)" font-size="16" text-anchor="middle" font-family="Liberation Sans, sans-serif">Time (d)</text>
<text transform="translate(16.8,370.4) rotate(-90) scale(0.94,1)" font-size="17" text-anchor="middle" font-family="Liberation Sans, sans-serif">W/W<tspan font-size="13.8" dy="3.9">0</tspan></text>
<text transform="translate(5,329.5) scale(1,1)" font-size="21" font-family="Liberation Sans, sans-serif">c</text>
<path d="M63.10,376.26 V396.94 M60.90,376.26 H65.30 M60.90,396.94 H65.30" stroke="#555555" stroke-opacity="0.75" stroke-width="1" fill="none"/>
<path d="M87.62,362.23 V390.29 M85.42,362.23 H89.82 M85.42,390.29 H89.82" stroke="#555555" stroke-opacity="0.75" stroke-width="1" fill="none"/>
<path d="M112.14,366.07 V386.75 M109.94,366.07 H114.34 M109.94,386.75 H114.34" stroke="#555555" stroke-opacity="0.75" stroke-width="1" fill="none"/>
<path d="M136.66,365.18 V390.29 M134.46,365.18 H138.86 M134.46,390.29 H138.86" stroke="#555555" stroke-opacity="0.75" stroke-width="1" fill="none"/>
<path d="M161.18,361.49 V388.08 M158.98,361.49 H163.38 M158.98,388.08 H163.38" stroke="#555555" stroke-opacity="0.75" stroke-width="1" fill="none"/>
<path d="M185.70,365.04 V386.01 M183.50,365.04 H187.90 M183.50,386.01 H187.90" stroke="#555555" stroke-opacity="0.75" stroke-width="1" fill="none"/>
<path d="M210.22,364.44 V385.12 M208.02,364.44 H212.42 M208.02,385.12 H212.42" stroke="#555555" stroke-opacity="0.75" stroke-width="1" fill="none"/>
<path d="M234.74,365.18 V385.86 M232.54,365.18 H236.94 M232.54,385.86 H236.94" stroke="#555555" stroke-opacity="0.75" stroke-width="1" fill="none"/>
<path d="M259.26,362.97 V383.65 M257.06,362.97 H261.46 M257.06,383.65 H261.46" stroke="#555555" stroke-opacity="0.75" stroke-width="1" fill="none"/>
<path d="M283.78,362.97 V383.65 M281.58,362.97 H285.98 M281.58,383.65 H285.98" stroke="#555555" stroke-opacity="0.75" stroke-width="1" fill="none"/>
<path d="M63.10,374.05 V399.15 M60.90,374.05 H65.30 M60.90,399.15 H65.30" stroke="#3030ff" stroke-opacity="0.75" stroke-width="1" fill="none"/>
<path d="M87.62,368.14 V387.34 M85.42,368.14 H89.82 M85.42,387.34 H89.82" stroke="#3030ff" stroke-opacity="0.75" stroke-width="1" fill="none"/>
<path d="M112.14,368.14 V382.91 M109.94,368.14 H114.34 M109.94,382.91 H114.34" stroke="#3030ff" stroke-opacity="0.75" stroke-width="1" fill="none"/>
<path d="M136.66,362.38 V377.15 M134.46,362.38 H138.86 M134.46,377.15 H138.86" stroke="#3030ff" stroke-opacity="0.75" stroke-width="1" fill="none"/>
<path d="M161.18,369.47 V384.24 M158.98,369.47 H163.38 M158.98,384.24 H163.38" stroke="#3030ff" stroke-opacity="0.75" stroke-width="1" fill="none"/>
<path d="M185.70,370.06 V384.83 M183.50,370.06 H187.90 M183.50,384.83 H187.90" stroke="#3030ff" stroke-opacity="0.75" stroke-width="1" fill="none"/>
<path d="M210.22,365.92 V380.69 M208.02,365.92 H212.42 M208.02,380.69 H212.42" stroke="#3030ff" stroke-opacity="0.75" stroke-width="1" fill="none"/>
<path d="M234.74,366.66 V381.43 M232.54,366.66 H236.94 M232.54,381.43 H236.94" stroke="#3030ff" stroke-opacity="0.75" stroke-width="1" fill="none"/>
<path d="M259.26,363.26 V378.03 M257.06,363.26 H261.46 M257.06,378.03 H261.46" stroke="#3030ff" stroke-opacity="0.75" stroke-width="1" fill="none"/>
<path d="M283.78,365.48 V380.25 M281.58,365.48 H285.98 M281.58,380.25 H285.98" stroke="#3030ff" stroke-opacity="0.75" stroke-width="1" fill="none"/>
<path d="M63.10,376.26 V396.94 M60.90,376.26 H65.30 M60.90,396.94 H65.30" stroke="#2a9a2a" stroke-opacity="0.75" stroke-width="1" fill="none"/>
<path d="M87.62,367.40 V385.12 M85.42,367.40 H89.82 M85.42,385.12 H89.82" stroke="#2a9a2a" stroke-opacity="0.75" stroke-width="1" fill="none"/>
<path d="M112.14,365.63 V380.40 M109.94,365.63 H114.34 M109.94,380.40 H114.34" stroke="#2a9a2a" stroke-opacity="0.75" stroke-width="1" fill="none"/>
<path d="M136.66,364.44 V379.22 M134.46,364.44 H138.86 M134.46,379.22 H138.86" stroke="#2a9a2a" stroke-opacity="0.75" stroke-width="1" fill="none"/>
<path d="M161.18,379.95 V390.29 M158.98,379.95 H163.38 M158.98,390.29 H163.38" stroke="#2a9a2a" stroke-opacity="0.75" stroke-width="1" fill="none"/>
<path d="M185.70,370.06 V384.83 M183.50,370.06 H187.90 M183.50,384.83 H187.90" stroke="#2a9a2a" stroke-opacity="0.75" stroke-width="1" fill="none"/>
<path d="M210.22,368.58 V383.35 M208.02,368.58 H212.42 M208.02,383.35 H212.42" stroke="#2a9a2a" stroke-opacity="0.75" stroke-width="1" fill="none"/>
<path d="M234.74,368.58 V383.35 M232.54,368.58 H236.94 M232.54,383.35 H236.94" stroke="#2a9a2a" stroke-opacity="0.75" stroke-width="1" fill="none"/>
<path d="M259.26,367.69 V382.46 M257.06,367.69 H261.46 M257.06,382.46 H261.46" stroke="#2a9a2a" stroke-opacity="0.75" stroke-width="1" fill="none"/>
<path d="M283.78,365.48 V380.25 M281.58,365.48 H285.98 M281.58,380.25 H285.98" stroke="#2a9a2a" stroke-opacity="0.75" stroke-width="1" fill="none"/>
<path d="M63.10,371.09 V402.11 M60.90,371.09 H65.30 M60.90,402.11 H65.30" stroke="#ff5050" stroke-opacity="0.75" stroke-width="1" fill="none"/>
<path d="M87.62,359.13 V399.30 M85.42,359.13 H89.82 M85.42,399.30 H89.82" stroke="#ff5050" stroke-opacity="0.75" stroke-width="1" fill="none"/>
<path d="M112.14,354.84 V391.77 M109.94,354.84 H114.34 M109.94,391.77 H114.34" stroke="#ff5050" stroke-opacity="0.75" stroke-width="1" fill="none"/>
<path d="M136.66,353.37 V389.41 M134.46,353.37 H138.86 M134.46,389.41 H138.86" stroke="#ff5050" stroke-opacity="0.75" stroke-width="1" fill="none"/>
<path d="M161.18,355.14 V387.63 M158.98,355.14 H163.38 M158.98,387.63 H163.38" stroke="#ff5050" stroke-opacity="0.75" stroke-width="1" fill="none"/>
<path d="M185.70,358.83 V387.78 M183.50,358.83 H187.90 M183.50,387.78 H187.90" stroke="#ff5050" stroke-opacity="0.75" stroke-width="1" fill="none"/>
<path d="M210.22,360.01 V386.60 M208.02,360.01 H212.42 M208.02,386.60 H212.42" stroke="#ff5050" stroke-opacity="0.75" stroke-width="1" fill="none"/>
<path d="M234.74,361.64 V386.75 M232.54,361.64 H236.94 M232.54,386.75 H236.94" stroke="#ff5050" stroke-opacity="0.75" stroke-width="1" fill="none"/>
<path d="M259.26,357.50 V390.29 M257.06,357.50 H261.46 M257.06,390.29 H261.46" stroke="#ff5050" stroke-opacity="0.75" stroke-width="1" fill="none"/>
<path d="M283.78,360.60 V393.39 M281.58,360.60 H285.98 M281.58,393.39 H285.98" stroke="#ff5050" stroke-opacity="0.75" stroke-width="1" fill="none"/>
<path d="M63.10,374.78 V398.42 M60.90,374.78 H65.30 M60.90,398.42 H65.30" stroke="#b890e8" stroke-opacity="0.75" stroke-width="1" fill="none"/>
<path d="M87.62,395.76 V406.98 M85.42,395.76 H89.82 M85.42,406.98 H89.82" stroke="#b890e8" stroke-opacity="0.75" stroke-width="1" fill="none"/>
<path d="M112.14,396.50 V409.20 M109.94,396.50 H114.34 M109.94,409.20 H114.34" stroke="#b890e8" stroke-opacity="0.75" stroke-width="1" fill="none"/>
<path d="M136.66,399.75 V414.22 M134.46,399.75 H138.86 M134.46,414.22 H138.86" stroke="#b890e8" stroke-opacity="0.75" stroke-width="1" fill="none"/>
<path d="M161.18,401.81 V415.70 M158.98,401.81 H163.38 M158.98,415.70 H163.38" stroke="#b890e8" stroke-opacity="0.75" stroke-width="1" fill="none"/>
<path d="M185.70,393.54 V410.68 M183.50,393.54 H187.90 M183.50,410.68 H187.90" stroke="#b890e8" stroke-opacity="0.75" stroke-width="1" fill="none"/>
<path d="M210.22,391.18 V408.31 M208.02,391.18 H212.42 M208.02,408.31 H212.42" stroke="#b890e8" stroke-opacity="0.75" stroke-width="1" fill="none"/>
<path d="M234.74,390.44 V407.28 M232.54,390.44 H236.94 M232.54,407.28 H236.94" stroke="#b890e8" stroke-opacity="0.75" stroke-width="1" fill="none"/>
<path d="M259.26,387.49 V404.62 M257.06,387.49 H261.46 M257.06,404.62 H261.46" stroke="#b890e8" stroke-opacity="0.75" stroke-width="1" fill="none"/>
<path d="M283.78,395.17 V408.16 M281.58,395.17 H285.98 M281.58,408.16 H285.98" stroke="#b890e8" stroke-opacity="0.75" stroke-width="1" fill="none"/>
<polyline points="63.10,386.60 87.62,376.26 112.14,376.41 136.66,377.74 161.18,374.78 185.70,375.52 210.22,374.78 234.74,375.52 259.26,373.31 283.78,373.31" fill="none" stroke="#555555" stroke-width="1"/>
<rect x="61.00" y="384.19" width="4.20" height="4.83" fill="#505050"/>
<rect x="85.52" y="373.85" width="4.20" height="4.83" fill="#505050"/>
<rect x="110.04" y="373.99" width="4.20" height="4.83" fill="#505050"/>
<rect x="134.56" y="375.32" width="4.20" height="4.83" fill="#505050"/>
<rect x="159.08" y="372.37" width="4.20" height="4.83" fill="#505050"/>
<rect x="183.60" y="373.11" width="4.20" height="4.83" fill="#505050"/>
<rect x="208.12" y="372.37" width="4.20" height="4.83" fill="#505050"/>
<rect x="232.64" y="373.11" width="4.20" height="4.83" fill="#505050"/>
<rect x="257.16" y="370.89" width="4.20" height="4.83" fill="#505050"/>
<rect x="281.68" y="370.89" width="4.20" height="4.83" fill="#505050"/>
<polyline points="63.10,386.60 87.62,377.74 112.14,375.52 136.66,369.76 161.18,376.85 185.70,377.44 210.22,373.31 234.74,374.05 259.26,370.65 283.78,372.86" fill="none" stroke="#3030ff" stroke-width="1"/>
<ellipse cx="63.10" cy="386.60" rx="2.60" ry="2.90" fill="#0000f0"/>
<ellipse cx="87.62" cy="377.74" rx="2.60" ry="2.90" fill="#0000f0"/>
<ellipse cx="112.14" cy="375.52" rx="2.60" ry="2.90" fill="#0000f0"/>
<ellipse cx="136.66" cy="369.76" rx="2.60" ry="2.90" fill="#0000f0"/>
<ellipse cx="161.18" cy="376.85" rx="2.60" ry="2.90" fill="#0000f0"/>
<ellipse cx="185.70" cy="377.44" rx="2.60" ry="2.90" fill="#0000f0"/>
<ellipse cx="210.22" cy="373.31" rx="2.60" ry="2.90" fill="#0000f0"/>
<ellipse cx="234.74" cy="374.05" rx="2.60" ry="2.90" fill="#0000f0"/>
<ellipse cx="259.26" cy="370.65" rx="2.60" ry="2.90" fill="#0000f0"/>
<ellipse cx="283.78" cy="372.86" rx="2.60" ry="2.90" fill="#0000f0"/>
<polyline points="63.10,386.60 87.62,376.26 112.14,373.01 136.66,371.83 161.18,385.12 185.70,377.44 210.22,375.97 234.74,375.97 259.26,375.08 283.78,372.86" fill="none" stroke="#2a9a2a" stroke-width="1"/>
<path d="M63.10,382.97 L66.40,388.91 L59.80,388.91 Z" fill="#108010"/>
<path d="M87.62,372.63 L90.92,378.57 L84.32,378.57 Z" fill="#108010"/>
<path d="M112.14,369.38 L115.44,375.32 L108.84,375.32 Z" fill="#108010"/>
<path d="M136.66,368.20 L139.96,374.14 L133.36,374.14 Z" fill="#108010"/>
<path d="M161.18,381.49 L164.48,387.43 L157.88,387.43 Z" fill="#108010"/>
<path d="M185.70,373.81 L189.00,379.75 L182.40,379.75 Z" fill="#108010"/>
<path d="M210.22,372.34 L213.52,378.28 L206.92,378.28 Z" fill="#108010"/>
<path d="M234.74,372.34 L238.04,378.28 L231.44,378.28 Z" fill="#108010"/>
<path d="M259.26,371.45 L262.56,377.39 L255.96,377.39 Z" fill="#108010"/>
<path d="M283.78,369.23 L287.08,375.17 L280.48,375.17 Z" fill="#108010"/>
<polyline points="63.10,386.60 87.62,379.22 112.14,373.31 136.66,371.39 161.18,371.39 185.70,373.31 210.22,373.31 234.74,374.19 259.26,373.90 283.78,377.00" fill="none" stroke="#ff5050" stroke-width="1"/>
<path d="M63.10,390.23 L66.40,384.29 L59.80,384.29 Z" fill="#ff0000"/>
<path d="M87.62,382.85 L90.92,376.91 L84.32,376.91 Z" fill="#ff0000"/>
<path d="M112.14,376.94 L115.44,371.00 L108.84,371.00 Z" fill="#ff0000"/>
<path d="M136.66,375.02 L139.96,369.08 L133.36,369.08 Z" fill="#ff0000"/>
<path d="M161.18,375.02 L164.48,369.08 L157.88,369.08 Z" fill="#ff0000"/>
<path d="M185.70,376.94 L189.00,371.00 L182.40,371.00 Z" fill="#ff0000"/>
<path d="M210.22,376.94 L213.52,371.00 L206.92,371.00 Z" fill="#ff0000"/>
<path d="M234.74,377.82 L238.04,371.88 L231.44,371.88 Z" fill="#ff0000"/>
<path d="M259.26,377.53 L262.56,371.59 L255.96,371.59 Z" fill="#ff0000"/>
<path d="M283.78,380.63 L287.08,374.69 L280.48,374.69 Z" fill="#ff0000"/>
<polyline points="63.10,386.60 87.62,401.37 112.14,402.85 136.66,406.98 161.18,408.75 185.70,402.11 210.22,399.75 234.74,398.86 259.26,396.05 283.78,401.67" fill="none" stroke="#b890e8" stroke-width="1"/>
<path d="M63.10,383.30 L66.40,386.60 L63.10,389.90 L59.80,386.60 Z" fill="#b07ee0"/>
<path d="M87.62,398.07 L90.92,401.37 L87.62,404.67 L84.32,401.37 Z" fill="#b07ee0"/>
<path d="M112.14,399.55 L115.44,402.85 L112.14,406.15 L108.84,402.85 Z" fill="#b07ee0"/>
<path d="M136.66,403.68 L139.96,406.98 L136.66,410.28 L133.36,406.98 Z" fill="#b07ee0"/>
<path d="M161.18,405.45 L164.48,408.75 L161.18,412.06 L157.88,408.75 Z" fill="#b07ee0"/>
<path d="M185.70,398.81 L189.00,402.11 L185.70,405.41 L182.40,402.11 Z" fill="#b07ee0"/>
<path d="M210.22,396.45 L213.52,399.75 L210.22,403.05 L206.92,399.75 Z" fill="#b07ee0"/>
<path d="M234.74,395.56 L238.04,398.86 L234.74,402.16 L231.44,398.86 Z" fill="#b07ee0"/>
<path d="M259.26,392.75 L262.56,396.05 L259.26,399.35 L255.96,396.05 Z" fill="#b07ee0"/>
<path d="M283.78,398.37 L287.08,401.67 L283.78,404.97 L280.48,401.67 Z" fill="#b07ee0"/>
<line x1="68.7" y1="326.9" x2="81.7" y2="326.9" stroke="#555555" stroke-width="1"/>
<rect x="73.00" y="324.36" width="4.41" height="5.07" fill="#505050"/>
<text transform="translate(85.2,330.7) scale(1,1.0)" font-size="12.2" font-family="Liberation Sans, sans-serif">PBS</text>
<line x1="120.6" y1="326.9" x2="133.6" y2="326.9" stroke="#3030ff" stroke-width="1"/>
<ellipse cx="127.10" cy="326.90" rx="2.73" ry="3.04" fill="#0000f0"/>
<text transform="translate(137.1,330.7) scale(1,1.0)" font-size="12.2" font-family="Liberation Sans, sans-serif">PBS+Laser</text>
<line x1="209.2" y1="326.9" x2="222.2" y2="326.9" stroke="#b890e8" stroke-width="1"/>
<path d="M215.70,323.44 L219.16,326.90 L215.70,330.36 L212.23,326.90 Z" fill="#b07ee0"/>
<text transform="translate(225.7,330.7) scale(1,1.0)" font-size="12.2" font-family="Liberation Sans, sans-serif">Ciaplatin</text>
<line x1="68.7" y1="343.2" x2="81.7" y2="343.2" stroke="#2a9a2a" stroke-width="1"/>
<path d="M75.20,339.39 L78.67,345.63 L71.73,345.63 Z" fill="#108010"/>
<text transform="translate(85.2,347.0) scale(1,1.0)" font-size="12.2" font-family="Liberation Sans, sans-serif">Probe</text>
<line x1="128.3" y1="343.2" x2="141.3" y2="343.2" stroke="#ff5050" stroke-width="1"/>
<path d="M134.80,347.01 L138.27,340.77 L131.34,340.77 Z" fill="#ff0000"/>
<text transform="translate(144.8,347.0) scale(1,1.0)" font-size="12.2" font-family="Liberation Sans, sans-serif">Probe+Laser</text>
<path d="M292.8,368.5 H294.6 V382.7 H292.8" fill="none" stroke="#222" stroke-width="1"/>
<text transform="translate(299,375.75) rotate(90) scale(0.94,1)" font-size="11.9" text-anchor="middle" font-family="Liberation Sans, sans-serif">N.S.</text>
<path d="M310.9,377.2 H312.8 V401.9 H310.9" fill="none" stroke="#222" stroke-width="1"/>
<text transform="translate(309.8,389.9) rotate(90)" font-size="17" text-anchor="middle" stroke="#000" stroke-width="0.2" font-family="Liberation Sans, sans-serif">*</text>
<rect x="396" y="163.7" width="287.5" height="295.90000000000003" fill="url(#photobg)"/>
<text transform="translate(340.3,180.6) scale(1,1)" font-size="20.5" font-family="Liberation Sans, sans-serif">d</text>
<text transform="translate(369.3,199) scale(1,0.97)" font-size="13.6" text-anchor="middle" font-family="Liberation Sans, sans-serif">PBS</text>
<text transform="translate(369.3,252.4) scale(1,0.97)" font-size="13.6" text-anchor="middle" font-family="Liberation Sans, sans-serif">PBS</text>
<text transform="translate(369.3,267.4) scale(1,0.97)" font-size="13.6" text-anchor="middle" font-family="Liberation Sans, sans-serif">+Laser</text>
<text transform="translate(369.3,313.6) scale(1,0.97)" font-size="13.6" text-anchor="middle" font-family="Liberation Sans, sans-serif">Cisplatin</text>
<text transform="translate(369.3,364.1) scale(1,0.97)" font-size="13.6" text-anchor="middle" font-family="Liberation Sans, sans-serif">Probe</text>
<text transform="translate(369.3,406.4) scale(1,0.97)" font-size="13.6" text-anchor="middle" font-family="Liberation Sans, sans-serif">Probe</text>
<text transform="translate(369.3,420.8) scale(1,0.97)" font-size="13.6" text-anchor="middle" font-family="Liberation Sans, sans-serif">+Laser</text>
<clipPath id="tc0"><path d="M446.6,192.3 Q447.1,194.5 446.6,196.7 Q446.0,198.9 445.0,201.0 Q443.9,203.1 441.7,204.0 Q439.5,204.9 437.3,205.7 Q435.0,206.5 432.7,205.9 Q430.3,205.3 428.5,203.9 Q426.7,202.5 425.1,200.8 Q423.5,199.1 423.4,196.8 Q423.3,194.5 423.5,192.2 Q423.6,190.0 425.2,188.3 Q426.7,186.5 428.6,185.3 Q430.5,184.0 432.7,183.4 Q435.0,182.7 437.5,182.9 Q439.9,183.1 441.7,184.8 Q443.4,186.5 444.7,188.3 Q446.1,190.1 446.6,192.3 Z"/></clipPath>
<path d="M446.6,192.3 Q447.1,194.5 446.6,196.7 Q446.0,198.9 445.0,201.0 Q443.9,203.1 441.7,204.0 Q439.5,204.9 437.3,205.7 Q435.0,206.5 432.7,205.9 Q430.3,205.3 428.5,203.9 Q426.7,202.5 425.1,200.8 Q423.5,199.1 423.4,196.8 Q423.3,194.5 423.5,192.2 Q423.6,190.0 425.2,188.3 Q426.7,186.5 428.6,185.3 Q430.5,184.0 432.7,183.4 Q435.0,182.7 437.5,182.9 Q439.9,183.1 441.7,184.8 Q443.4,186.5 444.7,188.3 Q446.1,190.1 446.6,192.3 Z" fill="url(#tga)" filter="url(#mottle)"/>
<g clip-path="url(#tc0)"><g filter="url(#blur2)"><circle cx="441" cy="195" r="2.53" fill="#8a3a30" opacity="0.6"/><circle cx="425" cy="192" r="3.45" fill="#7a5a50" opacity="0.6"/></g></g>
<clipPath id="tc1"><path d="M521.1,190.3 Q521.7,192.7 521.4,195.2 Q521.2,197.8 519.6,199.7 Q518.1,201.7 516.0,202.9 Q514.0,204.2 511.8,205.1 Q509.5,206.0 507.3,204.9 Q505.2,203.7 502.9,202.9 Q500.6,202.0 499.7,199.7 Q498.7,197.4 498.4,195.1 Q498.0,192.7 498.5,190.4 Q498.9,188.1 500.1,186.0 Q501.2,184.0 503.0,182.3 Q504.7,180.6 507.1,180.6 Q509.5,180.6 511.8,180.8 Q514.1,180.9 516.1,182.3 Q518.1,183.6 519.3,185.8 Q520.4,188.0 521.1,190.3 Z"/></clipPath>
<path d="M521.1,190.3 Q521.7,192.7 521.4,195.2 Q521.2,197.8 519.6,199.7 Q518.1,201.7 516.0,202.9 Q514.0,204.2 511.8,205.1 Q509.5,206.0 507.3,204.9 Q505.2,203.7 502.9,202.9 Q500.6,202.0 499.7,199.7 Q498.7,197.4 498.4,195.1 Q498.0,192.7 498.5,190.4 Q498.9,188.1 500.1,186.0 Q501.2,184.0 503.0,182.3 Q504.7,180.6 507.1,180.6 Q509.5,180.6 511.8,180.8 Q514.1,180.9 516.1,182.3 Q518.1,183.6 519.3,185.8 Q520.4,188.0 521.1,190.3 Z" fill="url(#tgy)" filter="url(#mottle)"/>
<g clip-path="url(#tc1)"><g filter="url(#blur2)"><circle cx="500" cy="190" r="3.45" fill="#8a7a68" opacity="0.6"/></g></g>
<clipPath id="tc2"><path d="M601.8,188.5 Q602.1,191.1 601.3,193.5 Q600.5,195.9 599.2,197.9 Q598.0,199.9 596.1,201.4 Q594.3,202.9 592.1,203.7 Q589.8,204.6 587.5,203.9 Q585.2,203.2 583.3,201.7 Q581.4,200.2 579.9,198.2 Q578.4,196.2 578.0,193.7 Q577.7,191.1 578.2,188.6 Q578.8,186.2 579.8,183.8 Q580.9,181.4 582.9,180.0 Q585.0,178.6 587.4,178.5 Q589.8,178.3 592.2,178.6 Q594.5,178.8 596.5,180.3 Q598.5,181.7 600.0,183.8 Q601.6,185.8 601.8,188.5 Z"/></clipPath>
<path d="M601.8,188.5 Q602.1,191.1 601.3,193.5 Q600.5,195.9 599.2,197.9 Q598.0,199.9 596.1,201.4 Q594.3,202.9 592.1,203.7 Q589.8,204.6 587.5,203.9 Q585.2,203.2 583.3,201.7 Q581.4,200.2 579.9,198.2 Q578.4,196.2 578.0,193.7 Q577.7,191.1 578.2,188.6 Q578.8,186.2 579.8,183.8 Q580.9,181.4 582.9,180.0 Q585.0,178.6 587.4,178.5 Q589.8,178.3 592.2,178.6 Q594.5,178.8 596.5,180.3 Q598.5,181.7 600.0,183.8 Q601.6,185.8 601.8,188.5 Z" fill="url(#tgm)" filter="url(#mottle)"/>
<clipPath id="tc3"><path d="M666.9,190.2 Q667.4,192.7 666.7,195.1 Q666.0,197.5 665.1,199.9 Q664.3,202.3 662.1,203.1 Q659.9,204.0 657.9,204.7 Q655.8,205.4 653.6,205.1 Q651.3,204.9 649.7,203.1 Q648.1,201.4 646.8,199.5 Q645.4,197.6 645.2,195.1 Q645.1,192.7 645.1,190.2 Q645.1,187.7 646.4,185.5 Q647.6,183.4 649.5,182.1 Q651.4,180.8 653.6,180.0 Q655.8,179.3 657.9,180.2 Q660.0,181.1 662.0,182.3 Q664.0,183.4 665.2,185.6 Q666.4,187.7 666.9,190.2 Z"/></clipPath>
<path d="M666.9,190.2 Q667.4,192.7 666.7,195.1 Q666.0,197.5 665.1,199.9 Q664.3,202.3 662.1,203.1 Q659.9,204.0 657.9,204.7 Q655.8,205.4 653.6,205.1 Q651.3,204.9 649.7,203.1 Q648.1,201.4 646.8,199.5 Q645.4,197.6 645.2,195.1 Q645.1,192.7 645.1,190.2 Q645.1,187.7 646.4,185.5 Q647.6,183.4 649.5,182.1 Q651.4,180.8 653.6,180.0 Q655.8,179.3 657.9,180.2 Q660.0,181.1 662.0,182.3 Q664.0,183.4 665.2,185.6 Q666.4,187.7 666.9,190.2 Z" fill="url(#tgy)" filter="url(#mottle)"/>
<g clip-path="url(#tc3)"><g filter="url(#blur2)"><circle cx="649" cy="198" r="3.45" fill="#a07a70" opacity="0.6"/></g></g>
<clipPath id="tc4"><path d="M438.1,253.3 Q438.6,255.7 438.1,258.1 Q437.6,260.6 436.7,262.8 Q435.7,265.1 433.9,266.6 Q432.1,268.2 430.0,268.3 Q427.8,268.5 425.7,268.1 Q423.6,267.8 422.1,266.0 Q420.6,264.3 419.2,262.5 Q417.7,260.7 417.3,258.2 Q416.9,255.7 417.1,253.1 Q417.3,250.5 418.6,248.4 Q419.9,246.3 421.9,245.2 Q423.8,244.2 425.8,243.6 Q427.8,243.1 429.9,243.4 Q432.0,243.6 433.5,245.4 Q434.9,247.2 436.3,249.0 Q437.6,250.8 438.1,253.3 Z"/></clipPath>
<path d="M438.1,253.3 Q438.6,255.7 438.1,258.1 Q437.6,260.6 436.7,262.8 Q435.7,265.1 433.9,266.6 Q432.1,268.2 430.0,268.3 Q427.8,268.5 425.7,268.1 Q423.6,267.8 422.1,266.0 Q420.6,264.3 419.2,262.5 Q417.7,260.7 417.3,258.2 Q416.9,255.7 417.1,253.1 Q417.3,250.5 418.6,248.4 Q419.9,246.3 421.9,245.2 Q423.8,244.2 425.8,243.6 Q427.8,243.1 429.9,243.4 Q432.0,243.6 433.5,245.4 Q434.9,247.2 436.3,249.0 Q437.6,250.8 438.1,253.3 Z" fill="url(#tgy)" filter="url(#mottle)"/>
<clipPath id="tc5"><path d="M523.3,252.8 Q523.6,255.3 523.1,257.7 Q522.5,260.0 521.1,262.0 Q519.7,264.0 517.9,265.9 Q516.1,267.7 513.5,267.7 Q510.9,267.7 508.5,267.3 Q506.0,266.9 503.8,265.7 Q501.7,264.4 499.9,262.4 Q498.2,260.5 498.3,257.9 Q498.4,255.3 498.6,252.8 Q498.8,250.4 500.1,248.2 Q501.5,246.1 503.6,244.4 Q505.6,242.7 508.3,242.3 Q510.9,241.8 513.5,242.3 Q516.2,242.8 518.1,244.6 Q520.0,246.4 521.5,248.4 Q523.0,250.4 523.3,252.8 Z"/></clipPath>
<path d="M523.3,252.8 Q523.6,255.3 523.1,257.7 Q522.5,260.0 521.1,262.0 Q519.7,264.0 517.9,265.9 Q516.1,267.7 513.5,267.7 Q510.9,267.7 508.5,267.3 Q506.0,266.9 503.8,265.7 Q501.7,264.4 499.9,262.4 Q498.2,260.5 498.3,257.9 Q498.4,255.3 498.6,252.8 Q498.8,250.4 500.1,248.2 Q501.5,246.1 503.6,244.4 Q505.6,242.7 508.3,242.3 Q510.9,241.8 513.5,242.3 Q516.2,242.8 518.1,244.6 Q520.0,246.4 521.5,248.4 Q523.0,250.4 523.3,252.8 Z" fill="url(#tgy)" filter="url(#mottle)"/>
<g clip-path="url(#tc5)"><g filter="url(#blur2)"><circle cx="503" cy="248" r="4.02" fill="#7a6050" opacity="0.6"/></g></g>
<clipPath id="tc6"><path d="M598.9,250.8 Q599.1,253.4 599.0,256.0 Q599.0,258.7 597.8,261.0 Q596.7,263.2 594.7,264.2 Q592.8,265.1 590.9,265.6 Q589.0,266.1 587.1,265.6 Q585.2,265.2 583.6,263.8 Q581.9,262.4 580.7,260.4 Q579.5,258.4 579.0,255.9 Q578.6,253.4 579.2,250.9 Q579.8,248.5 581.0,246.6 Q582.2,244.6 583.6,243.0 Q585.1,241.3 587.0,240.9 Q589.0,240.4 591.0,240.8 Q593.0,241.1 594.8,242.3 Q596.7,243.6 597.7,245.9 Q598.7,248.2 598.9,250.8 Z"/></clipPath>
<path d="M598.9,250.8 Q599.1,253.4 599.0,256.0 Q599.0,258.7 597.8,261.0 Q596.7,263.2 594.7,264.2 Q592.8,265.1 590.9,265.6 Q589.0,266.1 587.1,265.6 Q585.2,265.2 583.6,263.8 Q581.9,262.4 580.7,260.4 Q579.5,258.4 579.0,255.9 Q578.6,253.4 579.2,250.9 Q579.8,248.5 581.0,246.6 Q582.2,244.6 583.6,243.0 Q585.1,241.3 587.0,240.9 Q589.0,240.4 591.0,240.8 Q593.0,241.1 594.8,242.3 Q596.7,243.6 597.7,245.9 Q598.7,248.2 598.9,250.8 Z" fill="url(#tga)" filter="url(#mottle)"/>
<g clip-path="url(#tc6)"><g filter="url(#blur2)"><circle cx="582" cy="256" r="1.84" fill="#8a3030" opacity="0.6"/><circle cx="584" cy="262" r="1.72" fill="#7a3a30" opacity="0.6"/></g></g>
<clipPath id="tc7"><path d="M665.6,253.4 Q666.2,255.7 665.8,258.2 Q665.5,260.7 664.2,262.8 Q663.0,264.9 660.9,265.9 Q658.9,266.9 656.8,268.0 Q654.7,269.1 652.4,268.5 Q650.2,267.9 648.2,266.5 Q646.2,265.2 644.9,263.0 Q643.7,260.8 643.5,258.2 Q643.3,255.7 643.8,253.3 Q644.2,250.9 645.6,249.0 Q647.0,247.1 648.6,245.4 Q650.2,243.7 652.5,243.6 Q654.7,243.6 656.8,244.0 Q658.9,244.5 660.7,245.7 Q662.5,247.0 663.7,249.0 Q664.9,251.0 665.6,253.4 Z"/></clipPath>
<path d="M665.6,253.4 Q666.2,255.7 665.8,258.2 Q665.5,260.7 664.2,262.8 Q663.0,264.9 660.9,265.9 Q658.9,266.9 656.8,268.0 Q654.7,269.1 652.4,268.5 Q650.2,267.9 648.2,266.5 Q646.2,265.2 644.9,263.0 Q643.7,260.8 643.5,258.2 Q643.3,255.7 643.8,253.3 Q644.2,250.9 645.6,249.0 Q647.0,247.1 648.6,245.4 Q650.2,243.7 652.5,243.6 Q654.7,243.6 656.8,244.0 Q658.9,244.5 660.7,245.7 Q662.5,247.0 663.7,249.0 Q664.9,251.0 665.6,253.4 Z" fill="url(#tgr)" filter="url(#mottle)"/>
<g clip-path="url(#tc7)"><g filter="url(#blur2)"><circle cx="647" cy="252" r="4.02" fill="#5a3a3a" opacity="0.6"/><circle cx="652" cy="264" r="3.45" fill="#5a3a3a" opacity="0.6"/></g></g>
<clipPath id="tc8"><path d="M445.8,306.1 Q445.8,308.7 445.1,311.0 Q444.4,313.3 443.0,315.3 Q441.5,317.2 439.5,318.6 Q437.5,320.0 435.0,320.5 Q432.5,320.9 429.9,320.6 Q427.4,320.3 425.4,318.8 Q423.4,317.2 421.4,315.5 Q419.4,313.8 419.0,311.3 Q418.7,308.7 419.6,306.4 Q420.5,304.0 421.8,302.0 Q423.2,299.9 425.3,298.5 Q427.4,297.1 429.9,296.6 Q432.5,296.1 435.0,296.8 Q437.5,297.4 440.0,298.3 Q442.5,299.3 444.2,301.4 Q445.8,303.5 445.8,306.1 Z"/></clipPath>
<path d="M445.8,306.1 Q445.8,308.7 445.1,311.0 Q444.4,313.3 443.0,315.3 Q441.5,317.2 439.5,318.6 Q437.5,320.0 435.0,320.5 Q432.5,320.9 429.9,320.6 Q427.4,320.3 425.4,318.8 Q423.4,317.2 421.4,315.5 Q419.4,313.8 419.0,311.3 Q418.7,308.7 419.6,306.4 Q420.5,304.0 421.8,302.0 Q423.2,299.9 425.3,298.5 Q427.4,297.1 429.9,296.6 Q432.5,296.1 435.0,296.8 Q437.5,297.4 440.0,298.3 Q442.5,299.3 444.2,301.4 Q445.8,303.5 445.8,306.1 Z" fill="url(#tgr)" filter="url(#mottle)"/>
<g clip-path="url(#tc8)"><g filter="url(#blur2)"><circle cx="440" cy="304" r="3.45" fill="#9a5a50" opacity="0.6"/></g></g>
<clipPath id="tc9"><path d="M522.2,305.4 Q522.3,307.3 521.9,309.1 Q521.6,310.9 520.4,312.3 Q519.2,313.7 517.8,314.7 Q516.4,315.7 514.7,316.1 Q513.0,316.6 511.3,316.2 Q509.5,315.8 507.9,315.1 Q506.2,314.3 505.5,312.5 Q504.8,310.8 504.5,309.0 Q504.2,307.3 504.1,305.4 Q503.9,303.5 505.2,302.0 Q506.4,300.6 508.0,299.7 Q509.6,298.9 511.3,298.3 Q513.0,297.8 514.7,298.4 Q516.4,299.0 518.0,299.8 Q519.6,300.6 520.8,302.0 Q522.1,303.5 522.2,305.4 Z"/></clipPath>
<path d="M522.2,305.4 Q522.3,307.3 521.9,309.1 Q521.6,310.9 520.4,312.3 Q519.2,313.7 517.8,314.7 Q516.4,315.7 514.7,316.1 Q513.0,316.6 511.3,316.2 Q509.5,315.8 507.9,315.1 Q506.2,314.3 505.5,312.5 Q504.8,310.8 504.5,309.0 Q504.2,307.3 504.1,305.4 Q503.9,303.5 505.2,302.0 Q506.4,300.6 508.0,299.7 Q509.6,298.9 511.3,298.3 Q513.0,297.8 514.7,298.4 Q516.4,299.0 518.0,299.8 Q519.6,300.6 520.8,302.0 Q522.1,303.5 522.2,305.4 Z" fill="url(#tgy)" filter="url(#mottle)"/>
<clipPath id="tc10"><path d="M594.1,307.5 Q594.4,309.7 594.1,311.9 Q593.7,314.0 592.7,315.6 Q591.7,317.3 590.5,318.5 Q589.3,319.7 587.8,320.0 Q586.4,320.3 584.9,320.2 Q583.4,320.2 582.1,318.9 Q580.9,317.5 580.0,315.8 Q579.0,314.1 579.0,311.9 Q578.9,309.7 579.2,307.7 Q579.5,305.6 580.1,303.6 Q580.8,301.6 582.0,300.3 Q583.3,298.9 584.8,298.6 Q586.4,298.2 587.9,298.7 Q589.5,299.2 590.8,300.4 Q592.1,301.6 592.9,303.5 Q593.7,305.4 594.1,307.5 Z"/></clipPath>
<path d="M594.1,307.5 Q594.4,309.7 594.1,311.9 Q593.7,314.0 592.7,315.6 Q591.7,317.3 590.5,318.5 Q589.3,319.7 587.8,320.0 Q586.4,320.3 584.9,320.2 Q583.4,320.2 582.1,318.9 Q580.9,317.5 580.0,315.8 Q579.0,314.1 579.0,311.9 Q578.9,309.7 579.2,307.7 Q579.5,305.6 580.1,303.6 Q580.8,301.6 582.0,300.3 Q583.3,298.9 584.8,298.6 Q586.4,298.2 587.9,298.7 Q589.5,299.2 590.8,300.4 Q592.1,301.6 592.9,303.5 Q593.7,305.4 594.1,307.5 Z" fill="url(#tgr)" filter="url(#mottle)"/>
<g clip-path="url(#tc10)"><g filter="url(#blur2)"><circle cx="584" cy="314" r="2.88" fill="#8a4a40" opacity="0.6"/></g></g>
<clipPath id="tc11"><path d="M662.9,309.9 Q663.2,311.6 663.0,313.3 Q662.9,315.1 661.9,316.5 Q660.9,317.9 659.5,318.6 Q658.1,319.4 656.5,319.8 Q655.0,320.1 653.4,319.9 Q651.8,319.7 650.5,318.7 Q649.2,317.8 648.1,316.5 Q647.0,315.1 646.5,313.4 Q646.0,311.6 646.6,309.9 Q647.2,308.2 647.9,306.5 Q648.7,304.9 650.1,303.9 Q651.6,302.8 653.3,302.5 Q655.0,302.1 656.6,302.8 Q658.2,303.4 659.5,304.4 Q660.8,305.4 661.7,306.9 Q662.6,308.3 662.9,309.9 Z"/></clipPath>
<path d="M662.9,309.9 Q663.2,311.6 663.0,313.3 Q662.9,315.1 661.9,316.5 Q660.9,317.9 659.5,318.6 Q658.1,319.4 656.5,319.8 Q655.0,320.1 653.4,319.9 Q651.8,319.7 650.5,318.7 Q649.2,317.8 648.1,316.5 Q647.0,315.1 646.5,313.4 Q646.0,311.6 646.6,309.9 Q647.2,308.2 647.9,306.5 Q648.7,304.9 650.1,303.9 Q651.6,302.8 653.3,302.5 Q655.0,302.1 656.6,302.8 Q658.2,303.4 659.5,304.4 Q660.8,305.4 661.7,306.9 Q662.6,308.3 662.9,309.9 Z" fill="url(#tgy)" filter="url(#mottle)"/>
<clipPath id="tc12"><path d="M443.0,359.0 Q443.1,361.0 442.6,362.8 Q442.2,364.7 441.2,366.4 Q440.2,368.1 438.3,369.3 Q436.4,370.6 434.1,370.9 Q431.7,371.3 429.4,370.7 Q427.2,370.1 425.2,369.1 Q423.2,368.1 421.8,366.5 Q420.4,364.9 420.4,363.0 Q420.5,361.0 420.5,359.1 Q420.6,357.1 421.8,355.4 Q422.9,353.7 425.0,352.6 Q427.0,351.5 429.4,351.2 Q431.7,350.8 434.0,351.3 Q436.2,351.9 438.0,353.1 Q439.7,354.3 441.4,355.7 Q443.0,357.1 443.0,359.0 Z"/></clipPath>
<path d="M443.0,359.0 Q443.1,361.0 442.6,362.8 Q442.2,364.7 441.2,366.4 Q440.2,368.1 438.3,369.3 Q436.4,370.6 434.1,370.9 Q431.7,371.3 429.4,370.7 Q427.2,370.1 425.2,369.1 Q423.2,368.1 421.8,366.5 Q420.4,364.9 420.4,363.0 Q420.5,361.0 420.5,359.1 Q420.6,357.1 421.8,355.4 Q422.9,353.7 425.0,352.6 Q427.0,351.5 429.4,351.2 Q431.7,350.8 434.0,351.3 Q436.2,351.9 438.0,353.1 Q439.7,354.3 441.4,355.7 Q443.0,357.1 443.0,359.0 Z" fill="url(#tgy)" filter="url(#mottle)"/>
<clipPath id="tc13"><path d="M523.8,353.9 Q524.1,356.0 523.9,358.2 Q523.8,360.3 522.5,362.2 Q521.2,364.1 519.0,365.0 Q516.7,365.9 514.4,366.4 Q512.1,366.8 509.6,366.7 Q507.2,366.6 505.2,365.3 Q503.2,363.9 502.3,362.0 Q501.3,360.0 500.9,358.0 Q500.4,356.0 500.9,354.0 Q501.3,352.0 502.2,350.0 Q503.1,347.9 505.2,346.7 Q507.3,345.6 509.7,345.6 Q512.1,345.6 514.5,345.5 Q517.0,345.5 519.1,346.7 Q521.2,347.8 522.4,349.8 Q523.6,351.8 523.8,353.9 Z"/></clipPath>
<path d="M523.8,353.9 Q524.1,356.0 523.9,358.2 Q523.8,360.3 522.5,362.2 Q521.2,364.1 519.0,365.0 Q516.7,365.9 514.4,366.4 Q512.1,366.8 509.6,366.7 Q507.2,366.6 505.2,365.3 Q503.2,363.9 502.3,362.0 Q501.3,360.0 500.9,358.0 Q500.4,356.0 500.9,354.0 Q501.3,352.0 502.2,350.0 Q503.1,347.9 505.2,346.7 Q507.3,345.6 509.7,345.6 Q512.1,345.6 514.5,345.5 Q517.0,345.5 519.1,346.7 Q521.2,347.8 522.4,349.8 Q523.6,351.8 523.8,353.9 Z" fill="url(#tgb)" filter="url(#mottle)"/>
<clipPath id="tc14"><path d="M597.7,356.9 Q597.9,359.0 597.7,361.1 Q597.5,363.1 596.3,364.7 Q595.2,366.2 593.8,367.3 Q592.4,368.3 590.8,369.3 Q589.2,370.3 587.5,369.7 Q585.7,369.1 584.3,367.8 Q582.9,366.6 581.7,364.9 Q580.5,363.3 580.5,361.2 Q580.4,359.0 580.5,356.9 Q580.6,354.7 581.6,352.9 Q582.7,351.1 584.3,350.3 Q585.9,349.5 587.6,349.0 Q589.2,348.6 590.9,349.0 Q592.5,349.4 593.9,350.5 Q595.3,351.7 596.4,353.3 Q597.5,354.9 597.7,356.9 Z"/></clipPath>
<path d="M597.7,356.9 Q597.9,359.0 597.7,361.1 Q597.5,363.1 596.3,364.7 Q595.2,366.2 593.8,367.3 Q592.4,368.3 590.8,369.3 Q589.2,370.3 587.5,369.7 Q585.7,369.1 584.3,367.8 Q582.9,366.6 581.7,364.9 Q580.5,363.3 580.5,361.2 Q580.4,359.0 580.5,356.9 Q580.6,354.7 581.6,352.9 Q582.7,351.1 584.3,350.3 Q585.9,349.5 587.6,349.0 Q589.2,348.6 590.9,349.0 Q592.5,349.4 593.9,350.5 Q595.3,351.7 596.4,353.3 Q597.5,354.9 597.7,356.9 Z" fill="url(#tgy)" filter="url(#mottle)"/>
<g clip-path="url(#tc14)"><g filter="url(#blur2)"><circle cx="584" cy="362" r="2.88" fill="#9a6a5a" opacity="0.6"/></g></g>
<clipPath id="tc15"><path d="M664.3,356.9 Q664.7,358.5 664.4,360.2 Q664.2,361.9 663.2,363.2 Q662.1,364.5 661.0,365.8 Q659.8,367.1 658.1,367.2 Q656.4,367.2 654.8,367.0 Q653.2,366.7 651.7,365.8 Q650.3,364.9 649.2,363.5 Q648.2,362.1 648.1,360.3 Q648.0,358.5 648.1,356.7 Q648.2,354.9 649.3,353.6 Q650.4,352.2 651.8,351.2 Q653.1,350.2 654.8,349.9 Q656.4,349.6 657.9,350.2 Q659.5,350.8 660.9,351.5 Q662.4,352.3 663.2,353.7 Q664.0,355.2 664.3,356.9 Z"/></clipPath>
<path d="M664.3,356.9 Q664.7,358.5 664.4,360.2 Q664.2,361.9 663.2,363.2 Q662.1,364.5 661.0,365.8 Q659.8,367.1 658.1,367.2 Q656.4,367.2 654.8,367.0 Q653.2,366.7 651.7,365.8 Q650.3,364.9 649.2,363.5 Q648.2,362.1 648.1,360.3 Q648.0,358.5 648.1,356.7 Q648.2,354.9 649.3,353.6 Q650.4,352.2 651.8,351.2 Q653.1,350.2 654.8,349.9 Q656.4,349.6 657.9,350.2 Q659.5,350.8 660.9,351.5 Q662.4,352.3 663.2,353.7 Q664.0,355.2 664.3,356.9 Z" fill="url(#tgd)" filter="url(#mottle)"/>
<clipPath id="tc16"><path d="M442.1,406.6 Q442.2,408.3 442.2,410.0 Q442.3,411.7 441.1,413.0 Q439.9,414.2 438.6,415.3 Q437.3,416.3 435.6,416.8 Q433.9,417.2 432.2,416.8 Q430.5,416.4 429.2,415.4 Q427.8,414.3 426.8,413.0 Q425.8,411.6 425.4,410.0 Q425.0,408.3 425.3,406.6 Q425.5,404.9 426.7,403.6 Q428.0,402.4 429.2,401.3 Q430.5,400.2 432.2,400.0 Q433.9,399.9 435.5,400.2 Q437.2,400.5 438.8,401.2 Q440.3,401.9 441.2,403.5 Q442.0,405.0 442.1,406.6 Z"/></clipPath>
<path d="M442.1,406.6 Q442.2,408.3 442.2,410.0 Q442.3,411.7 441.1,413.0 Q439.9,414.2 438.6,415.3 Q437.3,416.3 435.6,416.8 Q433.9,417.2 432.2,416.8 Q430.5,416.4 429.2,415.4 Q427.8,414.3 426.8,413.0 Q425.8,411.6 425.4,410.0 Q425.0,408.3 425.3,406.6 Q425.5,404.9 426.7,403.6 Q428.0,402.4 429.2,401.3 Q430.5,400.2 432.2,400.0 Q433.9,399.9 435.5,400.2 Q437.2,400.5 438.8,401.2 Q440.3,401.9 441.2,403.5 Q442.0,405.0 442.1,406.6 Z" fill="url(#tgy)" filter="url(#mottle)"/>
<g clip-path="url(#tc16)"><g filter="url(#blur2)"><circle cx="430.2" cy="405.2" r="2.99" fill="#b84040" opacity="0.6"/></g></g>
<clipPath id="tc17"><path d="M515.3,406.0 Q515.6,407.7 515.5,409.5 Q515.3,411.3 514.6,412.9 Q513.9,414.5 512.7,415.3 Q511.6,416.1 510.3,416.6 Q509.1,417.0 507.9,416.6 Q506.6,416.2 505.6,415.2 Q504.5,414.2 503.7,412.8 Q503.0,411.3 502.8,409.5 Q502.6,407.7 502.9,405.9 Q503.1,404.2 503.8,402.7 Q504.5,401.2 505.5,400.0 Q506.5,398.7 507.8,398.5 Q509.1,398.3 510.4,398.5 Q511.7,398.8 512.8,399.8 Q513.9,400.8 514.4,402.6 Q514.9,404.3 515.3,406.0 Z"/></clipPath>
<path d="M515.3,406.0 Q515.6,407.7 515.5,409.5 Q515.3,411.3 514.6,412.9 Q513.9,414.5 512.7,415.3 Q511.6,416.1 510.3,416.6 Q509.1,417.0 507.9,416.6 Q506.6,416.2 505.6,415.2 Q504.5,414.2 503.7,412.8 Q503.0,411.3 502.8,409.5 Q502.6,407.7 502.9,405.9 Q503.1,404.2 503.8,402.7 Q504.5,401.2 505.5,400.0 Q506.5,398.7 507.8,398.5 Q509.1,398.3 510.4,398.5 Q511.7,398.8 512.8,399.8 Q513.9,400.8 514.4,402.6 Q514.9,404.3 515.3,406.0 Z" fill="url(#tga)" filter="url(#mottle)"/>
<g clip-path="url(#tc17)"><g filter="url(#blur2)"><circle cx="507" cy="404" r="3.22" fill="#5a3a2a" opacity="0.6"/><circle cx="508" cy="411" r="2.30" fill="#6a4a3a" opacity="0.6"/></g></g>
<clipPath id="tc18"><path d="M594.9,403.9 Q595.3,405.3 595.2,406.9 Q595.1,408.4 594.3,409.7 Q593.5,411.0 592.2,411.5 Q590.9,412.1 589.7,412.4 Q588.4,412.7 587.1,412.5 Q585.8,412.4 584.8,411.4 Q583.8,410.5 583.0,409.3 Q582.2,408.2 582.0,406.7 Q581.9,405.3 581.9,403.8 Q581.9,402.3 582.6,401.0 Q583.4,399.7 584.5,398.8 Q585.6,397.8 587.0,397.9 Q588.4,397.9 589.8,398.0 Q591.1,398.0 592.2,398.9 Q593.4,399.8 593.9,401.1 Q594.5,402.5 594.9,403.9 Z"/></clipPath>
<path d="M594.9,403.9 Q595.3,405.3 595.2,406.9 Q595.1,408.4 594.3,409.7 Q593.5,411.0 592.2,411.5 Q590.9,412.1 589.7,412.4 Q588.4,412.7 587.1,412.5 Q585.8,412.4 584.8,411.4 Q583.8,410.5 583.0,409.3 Q582.2,408.2 582.0,406.7 Q581.9,405.3 581.9,403.8 Q581.9,402.3 582.6,401.0 Q583.4,399.7 584.5,398.8 Q585.6,397.8 587.0,397.9 Q588.4,397.9 589.8,398.0 Q591.1,398.0 592.2,398.9 Q593.4,399.8 593.9,401.1 Q594.5,402.5 594.9,403.9 Z" fill="url(#tgd)" filter="url(#mottle)"/>
<g clip-path="url(#tc18)"><g filter="url(#blur2)"><circle cx="585.5" cy="405" r="3.45" fill="#3a2424" opacity="0.6"/></g></g>
<clipPath id="tc19"><path d="M661.2,406.2 Q662.3,407.3 662.1,408.8 Q661.9,410.3 660.5,411.0 Q659.2,411.7 658.5,413.2 Q657.8,414.6 656.4,414.3 Q655.0,414.0 653.8,413.8 Q652.5,413.6 651.1,413.3 Q649.7,412.9 649.0,411.6 Q648.4,410.2 648.8,408.8 Q649.2,407.3 649.2,406.0 Q649.1,404.7 649.8,403.6 Q650.4,402.4 651.5,401.8 Q652.6,401.3 653.8,401.2 Q655.0,401.1 656.2,401.2 Q657.3,401.3 658.6,401.7 Q659.9,402.1 660.0,403.6 Q660.1,405.1 661.2,406.2 Z"/></clipPath>
<path d="M661.2,406.2 Q662.3,407.3 662.1,408.8 Q661.9,410.3 660.5,411.0 Q659.2,411.7 658.5,413.2 Q657.8,414.6 656.4,414.3 Q655.0,414.0 653.8,413.8 Q652.5,413.6 651.1,413.3 Q649.7,412.9 649.0,411.6 Q648.4,410.2 648.8,408.8 Q649.2,407.3 649.2,406.0 Q649.1,404.7 649.8,403.6 Q650.4,402.4 651.5,401.8 Q652.6,401.3 653.8,401.2 Q655.0,401.1 656.2,401.2 Q657.3,401.3 658.6,401.7 Q659.9,402.1 660.0,403.6 Q660.1,405.1 661.2,406.2 Z" fill="url(#tga)" filter="url(#mottle)"/>
<rect x="396" y="437" width="287.5" height="9" fill="#e2e2e2"/>
<line x1="396" y1="437.4" x2="683.5" y2="437.4" stroke="#aaa" stroke-width="0.8"/>
<path d="M398.5,437 V445.5 M401.8,437 V445.5 M405.1,437 V445.5 M408.4,437 V445.5 M411.7,437 V445.5 M415.0,437 V445.5 M418.2,437 V445.5 M421.5,437 V445.5 M424.8,437 V445.5 M428.1,437 V445.5 M431.4,437 V445.5 M434.7,437 V445.5 M438.0,437 V445.5 M441.3,437 V445.5 M444.6,437 V445.5 M447.9,437 V445.5 M451.1,437 V445.5 M454.4,437 V445.5 M457.7,437 V445.5 M461.0,437 V445.5 M464.3,437 V445.5 M467.6,437 V445.5 M470.9,437 V445.5 M474.2,437 V445.5 M477.5,437 V445.5 M480.8,437 V445.5 M484.0,437 V445.5 M487.3,437 V445.5 M490.6,437 V445.5 M493.9,437 V445.5 M497.2,437 V445.5 M500.5,437 V445.5 M503.8,437 V445.5 M507.1,437 V445.5 M510.4,437 V445.5 M513.7,437 V445.5 M516.9,437 V445.5 M520.2,437 V445.5 M523.5,437 V445.5 M526.8,437 V445.5 M530.1,437 V445.5 M533.4,437 V445.5 M536.7,437 V445.5 M540.0,437 V445.5 M543.3,437 V445.5 M546.6,437 V445.5 M549.8,437 V445.5 M553.1,437 V445.5 M556.4,437 V445.5 M559.7,437 V445.5 M563.0,437 V445.5 M566.3,437 V445.5 M569.6,437 V445.5 M572.9,437 V445.5 M576.2,437 V445.5 M579.4,437 V445.5 M582.7,437 V445.5 M586.0,437 V445.5 M589.3,437 V445.5 M592.6,437 V445.5 M595.9,437 V445.5 M599.2,437 V445.5 M602.5,437 V445.5 M605.8,437 V445.5 M609.1,437 V445.5 M612.3,437 V445.5 M615.6,437 V445.5 M618.9,437 V445.5 M622.2,437 V445.5 M625.5,437 V445.5 M628.8,437 V445.5 M632.1,437 V445.5 M635.4,437 V445.5 M638.7,437 V445.5 M642.0,437 V445.5 M645.2,437 V445.5 M648.5,437 V445.5 M651.8,437 V445.5 M655.1,437 V445.5 M658.4,437 V445.5 M661.7,437 V445.5 M665.0,437 V445.5 M668.3,437 V445.5 M671.6,437 V445.5 M674.9,437 V445.5 M678.1,437 V445.5 M681.4,437 V445.5" stroke="#a4a4a4" stroke-width="1.1"/>
<rect x="396" y="446" width="287.5" height="4" fill="#f0f0ee"/>
<rect x="396" y="450" width="287.5" height="9.600000000000023" fill="url(#rulerband)"/>
<text x="415.6" y="455" font-size="5.6" text-anchor="middle" fill="#333" font-weight="bold" font-family="Liberation Sans, sans-serif">1 cm</text>
<text x="427.5" y="455" font-size="5.6" text-anchor="middle" fill="#333" font-weight="bold" font-family="Liberation Sans, sans-serif">2</text>
<text x="443.9" y="455" font-size="5.6" text-anchor="middle" fill="#333" font-weight="bold" font-family="Liberation Sans, sans-serif">3</text>
<text x="460.4" y="455" font-size="5.6" text-anchor="middle" fill="#333" font-weight="bold" font-family="Liberation Sans, sans-serif">4</text>
<text x="476.9" y="455" font-size="5.6" text-anchor="middle" fill="#333" font-weight="bold" font-family="Liberation Sans, sans-serif">5</text>
<text x="493.3" y="455" font-size="5.6" text-anchor="middle" fill="#333" font-weight="bold" font-family="Liberation Sans, sans-serif">6</text>
<text x="509.8" y="455" font-size="5.6" text-anchor="middle" fill="#333" font-weight="bold" font-family="Liberation Sans, sans-serif">7</text>
<text x="526.2" y="455" font-size="5.6" text-anchor="middle" fill="#333" font-weight="bold" font-family="Liberation Sans, sans-serif">8</text>
<text x="542.6" y="455" font-size="5.6" text-anchor="middle" fill="#333" font-weight="bold" font-family="Liberation Sans, sans-serif">9</text>
<text x="559.1" y="455" font-size="5.6" text-anchor="middle" fill="#333" font-weight="bold" font-family="Liberation Sans, sans-serif">10</text>
<text x="575.5" y="455" font-size="5.6" text-anchor="middle" fill="#333" font-weight="bold" font-family="Liberation Sans, sans-serif">11</text>
<text x="592.0" y="455" font-size="5.6" text-anchor="middle" fill="#333" font-weight="bold" font-family="Liberation Sans, sans-serif">12</text>
<text x="608.5" y="455" font-size="5.6" text-anchor="middle" fill="#333" font-weight="bold" font-family="Liberation Sans, sans-serif">13</text>
<text x="624.9" y="455" font-size="5.6" text-anchor="middle" fill="#333" font-weight="bold" font-family="Liberation Sans, sans-serif">14</text>
<text x="641.4" y="455" font-size="5.6" text-anchor="middle" fill="#333" font-weight="bold" font-family="Liberation Sans, sans-serif">15</text>
<text x="657.8" y="455" font-size="5.6" text-anchor="middle" fill="#333" font-weight="bold" font-family="Liberation Sans, sans-serif">16</text>
<text x="674.2" y="455" font-size="5.6" text-anchor="middle" fill="#333" font-weight="bold" font-family="Liberation Sans, sans-serif">17</text>
<path d="M411.1,437 V448.8 M427.5,437 V448.8 M443.9,437 V448.8 M460.4,437 V448.8 M476.9,437 V448.8 M493.3,437 V448.8 M509.8,437 V448.8 M526.2,437 V448.8 M542.6,437 V448.8 M559.1,437 V448.8 M575.5,437 V448.8 M592.0,437 V448.8 M608.5,437 V448.8 M624.9,437 V448.8 M641.4,437 V448.8 M657.8,437 V448.8 M674.2,437 V448.8" stroke="#888" stroke-width="1"/>
</svg>
</body></html>
